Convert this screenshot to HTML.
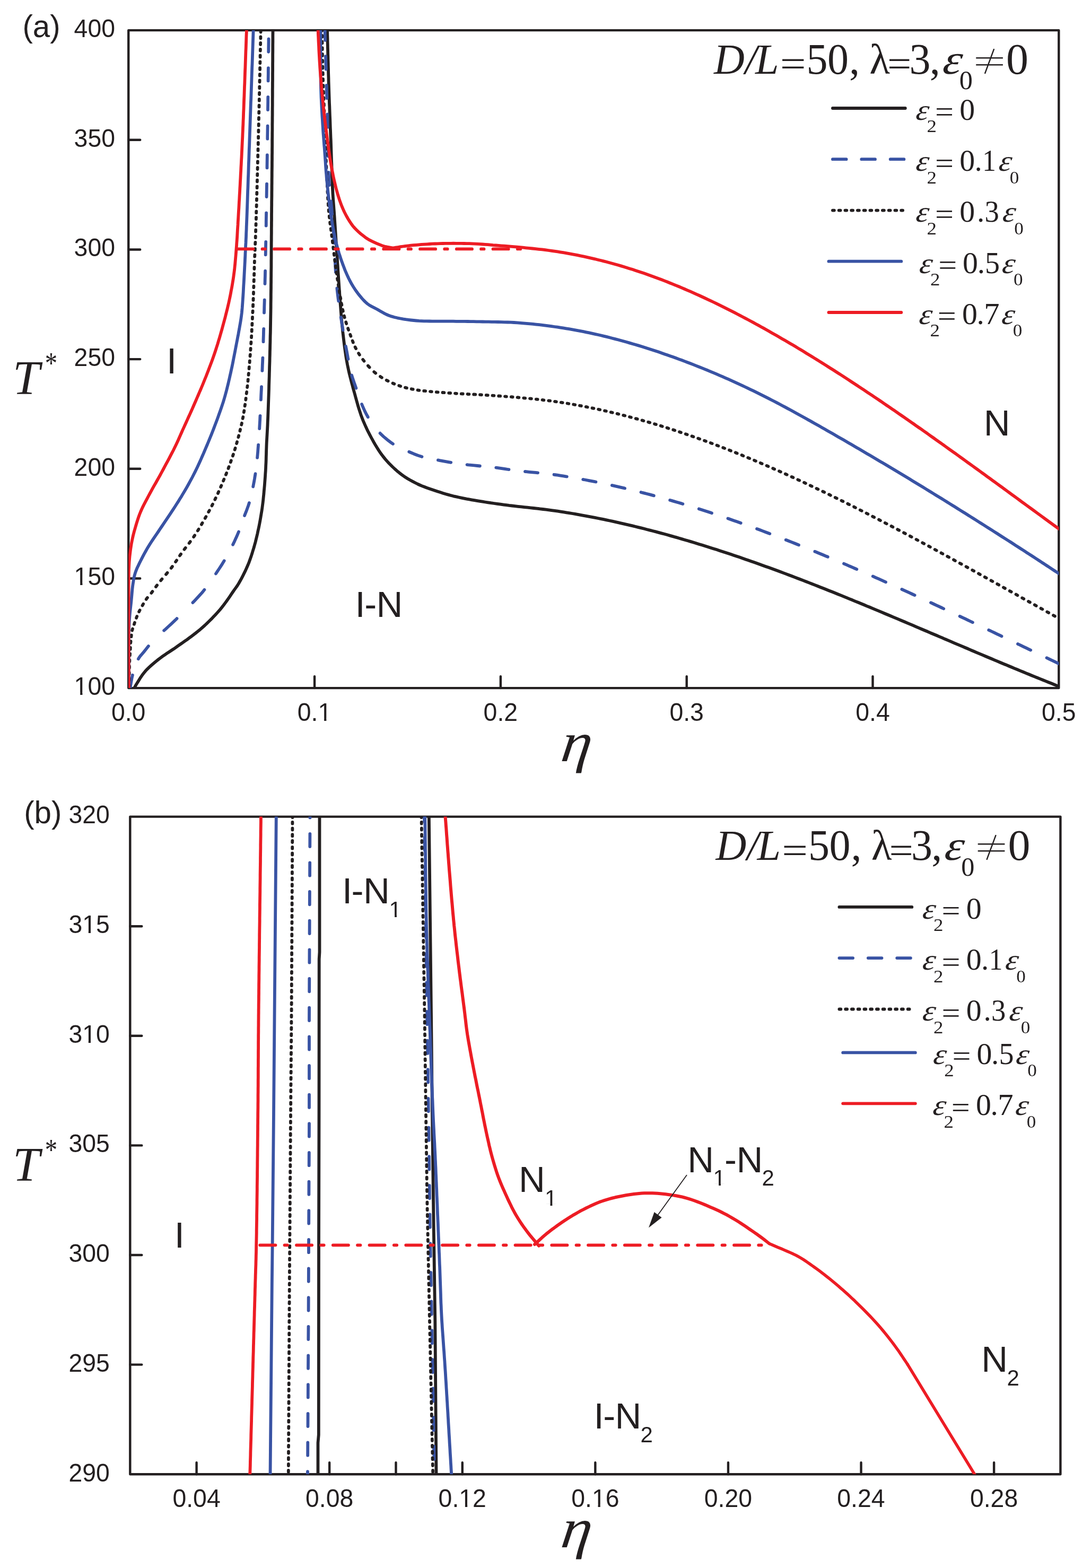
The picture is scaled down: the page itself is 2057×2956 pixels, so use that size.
<!DOCTYPE html>
<html lang="en">
<head>
<meta charset="utf-8">
<title>Phase diagram: T* versus η, D/L=50, λ=3</title>
<style>
html,body{margin:0;padding:0;background:#fff}
body{width:2057px;height:2956px;overflow:hidden}
svg{display:block}
text{fill:#231f20;white-space:pre}
</style>
</head>
<body>
<svg xmlns="http://www.w3.org/2000/svg" width="2057" height="2956" viewBox="0 0 2057 2956">
<rect width="2057" height="2956" fill="#fff"/>
<defs><clipPath id="ca"><rect x="242.25" y="57.1" width="1754.05" height="1240.0"/></clipPath>
<clipPath id="cb"><rect x="245.3" y="1539.6" width="1754.1" height="1239.6"/></clipPath></defs>
<!-- panel (a) -->
<g fill="none" stroke="#231f20" stroke-width="4.4" stroke-linecap="round" stroke-linejoin="round">
<rect x="242.25" y="57.1" width="1754.05" height="1240.0"/>
<path d="M593.06 1297.10v-22M943.87 1297.10v-22M1294.68 1297.10v-22M1645.49 1297.10v-22M242.25 263.77h22M242.25 470.43h22M242.25 677.10h22M242.25 883.77h22M242.25 1090.43h22"/>
</g>
<g fill="none" clip-path="url(#ca)">
<path d="M250.8 1301.5L252.3 1298.6L253.9 1295.7L255.4 1293L257 1290.3L258.7 1287.5L260.5 1284.6L262.7 1281L265 1277.3L267.9 1273.1L271 1269L274 1265.3L277.5 1261.6L281.3 1257.9L285.6 1254L290 1250.2L294.2 1246.7L298.4 1243.4L302.6 1240.2L306.7 1237.2L310.9 1234.3L315.1 1231.4L319.3 1228.7L323.4 1226L327.6 1223.3L331.8 1220.4L335.9 1217.4L340.1 1214.5L344.3 1211.6L348.4 1208.7L352.6 1205.8L356.8 1202.7L361 1199.6L365.2 1196.4L369.4 1193.1L373.6 1189.8L377.7 1186.4L381.9 1182.7L386.1 1179L390.2 1175.1L394.4 1171L398.6 1166.9L402.7 1162.6L405.9 1159.3L409 1155.9L412.1 1152.4L415.2 1148.8L418.4 1144.9L421.6 1140.8L424.7 1136.6L427.7 1132.5L430.6 1128.4L433.4 1124.3L436.2 1120.1L439 1116L441.7 1112.1L444.4 1108.4L447.2 1104.5L450 1100L452.4 1095.8L455 1091.1L457.6 1086.1L460.2 1080.9L462.8 1075.6L465.2 1070.2L467.5 1065L469.6 1059.8L471.5 1054.5L473.4 1049.1L475.2 1043.7L476.8 1038.3L478.5 1032.9L480 1027.5L481.5 1022.2L482.8 1016.8L484.1 1011.5L485.4 1006.1L486.5 1000.7L487.7 995.4L488.8 990L489.8 984.7L490.8 979.3L491.7 974L492.6 968.6L493.5 963.2L494.3 957.9L495 952.5L495.7 947.2L496.3 941.8L496.8 936.4L497.4 931.1L497.8 925.7L498.3 920.4L498.8 915L499.2 909.6L499.6 904.3L500 898.9L500.3 893.6L500.7 888.2L501 882.9L501.2 877.5L501.5 872.2L501.7 866.9L501.8 861.7L502 856.4L502.1 851.1L502.3 845.6L502.5 840L502.7 834.8L503 829.6L503.3 824.2L503.6 818.8L503.9 813.3L504.2 807.7L504.5 801.9L504.7 796L505 790L505.2 784.8L505.4 779.4L505.6 773.9L505.8 768.4L506 762.7L506.2 757L506.4 751.2L506.6 745.3L506.8 739.4L507 733.4L507.1 727.3L507.3 721.2L507.5 715L507.7 709.5L507.8 703.9L508 698.2L508.1 692.5L508.3 686.6L508.5 680.8L508.6 674.8L508.8 668.9L508.9 662.9L509.1 656.9L509.2 650.9L509.4 644.9L509.5 638.8L509.6 632.8L509.8 626.9L509.9 620.9L510 615L510.1 609.1L510.2 603.1L510.3 597.2L510.4 591.2L510.5 585.2L510.6 579.1L510.6 573.1L510.7 567.1L510.8 561.1L510.8 555.2L510.9 549.2L511 543.4L511 537.5L511.1 531.8L511.1 526.1L511.2 520.5L511.2 515L511.3 509L511.4 503.2L511.4 497.6L511.4 492.2L511.5 486.8L511.5 481.5L511.5 476.1L511.6 470.7L511.6 465.1L511.6 459.3L511.7 453.2L511.7 446.8L511.8 440L511.8 435.3L511.8 430.4L511.9 425.4L511.9 420.3L512 415L512 409.6L512 404.1L512.1 398.5L512.1 392.9L512.2 387.1L512.2 381.2L512.3 375.3L512.4 369.3L512.4 363.2L512.5 357.1L512.5 350.9L512.6 344.7L512.6 338.4L512.7 332.1L512.7 325.8L512.8 319.5L512.9 313.2L512.9 306.8L513 300.5L513 294.2L513.1 287.9L513.1 281.6L513.2 275.4L513.2 269.2L513.2 263L513.3 257.3L513.3 251.5L513.4 245.8L513.4 240L513.4 234.2L513.5 228.3L513.5 222.5L513.6 216.6L513.6 210.7L513.6 204.8L513.7 198.9L513.7 192.9L513.7 187L513.8 181L513.8 175L513.8 169L513.9 163L513.9 157L514 151L514 145L514 139L514.1 133L514.1 127L514.1 120.9L514.2 114.9L514.2 108.9L514.2 102.9L514.3 96.9L514.3 90.9L514.3 84.9L514.4 78.9L514.4 72.9L514.4 66.9L514.5 60.9L514.5 55" stroke="#231f20" stroke-width="5.8" stroke-linecap="butt" stroke-linejoin="round"/>
<path d="M617 55L617.2 60.8L617.3 66.6L617.5 72.4L617.6 78.2L617.8 84.1L617.9 89.9L618.1 95.8L618.2 101.6L618.4 107.4L618.5 113.2L618.7 119.1L618.8 124.9L619 130.7L619.1 136.4L619.3 142.2L619.5 147.9L619.6 153.6L619.8 159.3L620 165L620.2 171L620.4 177L620.6 182.9L620.8 188.9L621 194.8L621.3 200.6L621.5 206.5L621.7 212.4L621.9 218.2L622.2 224.1L622.4 229.9L622.6 235.7L622.8 241.6L623.1 247.4L623.3 253.3L623.5 259.1L623.8 265L624 271L624.2 277.1L624.4 283.3L624.6 289.6L624.8 296L625 302.4L625.3 308.7L625.5 315.1L625.7 321.3L625.9 327.5L626.1 333.5L626.4 339.4L626.6 345L626.8 350.4L627 355.6L627.3 360.5L627.5 365L627.9 371.7L628.3 377.5L628.7 382.8L629.1 388L629.5 393.6L630 400L630.3 404.8L630.7 410L631 415.4L631.4 421L631.8 426.8L632.2 432.7L632.6 438.8L633 444.9L633.4 451L633.8 457.1L634.2 463.2L634.6 469.2L635 475L635.4 480.8L635.8 486.5L636.1 492.3L636.5 498.1L636.9 503.8L637.2 509.6L637.6 515.4L638 521.2L638.4 526.9L638.8 532.7L639.2 538.5L639.6 544.2L640 550L640.4 555.8L640.9 561.6L641.3 567.5L641.7 573.3L642.2 579.2L642.6 585L643.1 590.9L643.5 596.7L644 602.4L644.5 608.2L645.1 613.9L645.7 619.5L646.2 625L646.9 630.9L647.6 636.8L648.3 642.6L649 648.4L649.7 654.1L650.5 659.7L651.3 665.4L652.1 670.9L653 676.5L654 682L655 687.5L656.2 693.2L657.4 698.9L658.7 704.5L660.1 710.1L661.5 715.6L662.9 721.1L664.4 726.6L665.8 731.9L667.3 737.3L668.8 742.5L670.4 748.4L672 754.2L673.6 760L675.2 765.6L676.9 771.2L678.7 776.7L680.5 782.2L682.5 787.5L684.7 793.1L687.1 798.7L689.5 804.1L692 809.4L694.6 814.7L697.3 819.9L700 825L702.7 829.9L705.4 834.8L708.2 839.6L711.1 844.3L714 848.9L717 853.3L720 857.5L723.2 861.6L726.4 865.6L729.7 869.4L733 873L736.5 876.5L740 880L744.3 884L748.7 887.9L753.2 891.6L757.8 895.1L762.5 898.5L767.5 901.7L772.7 904.8L778 907.6L783 910.2L787.5 912.5L791.8 914.5L795.6 916.1L800 917.8L804.4 919.5L809.4 921.2L814.6 923L819.8 924.8L825 926.5L830 928.1L835 929.7L840 931.2L845 932.6L850 934L855 935.3L860 936.4L865 937.5L870 938.6L875 939.6L879.9 940.6L884.6 941.4L889.4 942.3L894.4 943.2L900 944.1L904.7 944.9L909.7 945.7L914.8 946.5L920.2 947.3L925.8 948.2L931.6 949L937.6 949.9L943.7 950.7L950 951.6L954.9 952.2L960.1 952.9L965.5 953.5L971.1 954.1L976.8 954.8L982.6 955.4L988.5 956.1L994.5 956.7L1000.5 957.3L1006.4 958L1012.3 958.7L1018.2 959.3L1023.9 960L1029.5 960.7L1034.8 961.4L1040 962.1L1045.9 962.9L1051.7 963.7L1057.3 964.6L1062.7 965.4L1068.1 966.3L1073.4 967.1L1078.7 968L1084 968.9L1089.3 969.9L1094.6 970.8L1100 971.8L1105.5 972.8L1110.9 973.8L1116.4 974.9L1121.8 975.9L1127.3 977L1132.8 978.1L1138.2 979.2L1143.7 980.4L1149.1 981.5L1154.6 982.7L1160 983.9L1165.5 985.1L1170.9 986.3L1176.4 987.6L1181.8 988.8L1187.3 990.1L1192.8 991.4L1198.2 992.7L1203.7 994.1L1209.1 995.4L1214.6 996.8L1220 998.2L1225.5 999.6L1230.9 1001L1236.4 1002.4L1241.8 1003.9L1247.3 1005.4L1252.8 1006.8L1258.2 1008.3L1263.7 1009.9L1269.1 1011.4L1274.6 1012.9L1280 1014.5L1285.5 1016.1L1290.9 1017.7L1296.4 1019.3L1301.8 1020.9L1307.3 1022.5L1312.8 1024.2L1318.2 1025.9L1323.7 1027.5L1329.1 1029.2L1334.6 1030.9L1340 1032.7L1345.5 1034.4L1350.9 1036.1L1356.4 1037.9L1361.8 1039.7L1367.3 1041.5L1372.8 1043.3L1378.2 1045.1L1383.7 1046.9L1389.1 1048.8L1394.6 1050.6L1400 1052.5L1405.5 1054.4L1410.9 1056.3L1416.4 1058.2L1421.8 1060.1L1427.3 1062L1432.8 1064L1438.2 1065.9L1443.7 1067.9L1449.1 1069.8L1454.6 1071.8L1460 1073.8L1465.5 1075.8L1470.9 1077.8L1476.4 1079.9L1481.8 1081.9L1487.3 1084L1492.8 1086L1498.2 1088.1L1503.7 1090.2L1509.1 1092.3L1514.6 1094.4L1520 1096.5L1525.5 1098.6L1530.9 1100.7L1536.4 1102.9L1541.8 1105L1547.3 1107.2L1552.7 1109.3L1558.2 1111.5L1563.7 1113.7L1569.1 1115.8L1574.6 1118L1580 1120.2L1585.5 1122.4L1590.9 1124.6L1596.4 1126.9L1601.8 1129.1L1607.3 1131.3L1612.7 1133.6L1618.2 1135.8L1623.6 1138L1629.1 1140.3L1634.5 1142.6L1640 1144.8L1645.5 1147.1L1650.9 1149.4L1656.4 1151.6L1661.8 1153.9L1667.3 1156.2L1672.7 1158.5L1678.2 1160.8L1683.6 1163.1L1689.1 1165.4L1694.5 1167.7L1700 1170L1705.5 1172.3L1710.9 1174.6L1716.4 1176.9L1721.8 1179.2L1727.3 1181.6L1732.7 1183.9L1738.2 1186.2L1743.6 1188.5L1749.1 1190.8L1754.5 1193.2L1760 1195.5L1765.5 1197.8L1770.9 1200.1L1776.4 1202.4L1781.8 1204.8L1787.3 1207.1L1792.7 1209.4L1798.2 1211.8L1803.6 1214.1L1809.1 1216.4L1814.5 1218.7L1820 1221L1825.5 1223.3L1830.9 1225.7L1836.4 1228L1841.8 1230.3L1847.3 1232.6L1852.7 1234.9L1858.2 1237.2L1863.6 1239.5L1869.1 1241.8L1874.5 1244.1L1880 1246.4L1885.5 1248.7L1890.9 1251L1896.4 1253.2L1901.8 1255.5L1907.3 1257.8L1912.8 1260.1L1918.2 1262.3L1923.7 1264.6L1929.1 1266.8L1934.6 1269.1L1940 1271.3L1945.3 1273.5L1950.6 1275.6L1955.9 1277.8L1961.2 1279.9L1966.4 1282L1971.7 1284.1L1976.9 1286.2L1982.2 1288.3L1987.5 1290.5L1992.7 1292.6L1998 1294.7" stroke="#231f20" stroke-width="5.8" stroke-linecap="butt" stroke-linejoin="round"/>
<path d="M245.3 1297L245.6 1295.6L246.4 1290.8L247.4 1285L248.5 1279L249.6 1273.8L249.9 1272.7M260.8 1242.3L261.5 1241L264.5 1236.7L267.9 1232.9L271.3 1228.9L274.8 1224.5L278.3 1220L279.9 1218M309.2 1188.7L312.7 1185.6L317.1 1181.5L321.4 1177.6L325.4 1173.9L329.3 1170.2L333.2 1166.5L333.5 1166.1M363.5 1136.1L366.5 1132.9L370.4 1128.8L373.9 1125L377.3 1121.3L380.2 1118.1L383 1114.8L385.4 1111.8M407 1081.5L409.7 1077.4L413 1072.5L416.2 1067.6L419.4 1062.6L422.5 1057.5L422.7 1057.2M439.1 1026.8L439.7 1025.5L441.9 1020.9L444 1016.3L446.1 1011.7L448.1 1007.1L450 1002.5L450 1002.5M461.1 972.1L462 969.6L464.1 964.4L466.1 959L468.1 953.5L469.9 947.9M477.2 917.5L477.9 913.8L479 908.1L480 902.5L480.9 896.7L481.5 893.2M485.1 862.9L485.6 857.5L486.1 851.9L486.5 846.2L487 840L487.1 838.6M489.2 808.2L489.5 802.5L489.8 797.4L490.1 792.2L490.3 786.8L490.5 783.9M491.9 753.6L492 751.9L492.2 746L492.5 740L492.8 734.5L493 729.2M494.4 698.9L494.6 694.2L494.8 688.3L495.1 682.4L495.3 676.6L495.4 674.6M496.5 644.2L496.5 641.9L496.7 636.2L496.9 630.4L497 624.6L497.2 620M498 589.6L498.2 584.2L498.3 578.4L498.5 572.6L498.7 566.7L498.7 565.3M499.5 535L499.6 531.8L499.7 526.2L499.9 520.5L500 515L500.1 510.7M500.7 480.3L500.8 477.5L500.9 471.8L501 465.8L501.1 459.4L501.2 456M501.7 425.7L501.8 423.4L501.8 418.1L501.9 412.5L502 406.9L502.1 401.4M502.6 371L502.6 371L502.7 364.7L502.8 358.4L502.9 352L503 346.7M503.5 316.4L503.5 313.4L503.6 307L503.7 300.5L503.8 294.2L503.8 292.1M504.3 261.7L504.3 257.2L504.4 251.4L504.5 245.5L504.6 239.7L504.6 237.4M505 207.1L505 204.3L505.1 198.3L505.2 192.4L505.2 186.5L505.3 182.8M505.6 152.4L505.6 150.6L505.7 144.7L505.8 138.7L505.8 132.7L505.9 128.1M506.2 97.8L506.3 96.8L506.3 90.8L506.4 84.8L506.5 78.8L506.5 73.4" stroke="#3953a4" stroke-width="5.8" stroke-linecap="round" stroke-linejoin="round"/>
<path d="M612.5 55L612.7 60.7L612.8 66.3L613 72L613.1 75.9M614 106.2L614.2 111.6L614.3 117.2L614.5 122.9L614.7 128.6L614.7 130.5M615.6 160.9L615.7 163L615.8 168.8L616 174.5L616.2 180.3L616.3 185.2M617.2 215.5L617.3 221.4L617.5 227.5L617.6 233.1L617.8 238.9L617.8 239.8M618.3 270.2L618.4 275.2L618.5 281.4L618.6 287.5L618.7 293.5L618.7 294.5M619.6 324.8L619.7 327.4L620 332.5L620.4 339L620.8 345.2L621.2 349.1M624 379.5L624.5 384.5L625 390L625.5 395.6L625.9 401L626.2 403.8M628.6 434.1L629 440L629.3 445L629.6 450.3L630 455.8L630.1 458.4M631.6 488.8L631.7 492L632.1 498.3L632.4 504.5L632.8 510.7L632.9 513.1M635.4 543.4L635.6 546L636.3 551.9L637 557.8L637.7 563.6L638.3 567.7M642.7 598.1L643.4 602.2L644.2 607.4L645 612.5L646 618.5L646.6 622.4M651.9 652.7L652.7 657.2L653.8 662.5L654.8 668.1L655.8 673.6L656.5 677M663.2 707.4L664.1 710.7L665.9 715.9L667.6 721L669.4 726L671.2 731.2L671.4 731.7M682.1 762L683.5 765.4L685.8 770.6L688.2 775.9L690.8 781L693.8 786.2L693.8 786.3M716.6 816.7L719 819.1L723.2 823.1L727.6 826.8L732 830.4L736.6 833.8L740.9 836.8M771.2 851.8L775.3 853.5L780.5 855.7L785.7 857.7L790.9 859.6L795.5 861M825.9 867.4L829.3 868.1L834.8 869.1L840.3 870.1L845.8 871.1L850.2 871.8M880.5 876.1L883.1 876.4L888.6 876.9L894.1 877.4L900 878L904.9 878.5M935.2 881.6L937.5 881.9L942.5 882.6L947.6 883.4L952.8 884.2L958.1 885L959.5 885.2M989.9 889L991.8 889.2L997.7 889.8L1003.8 890.4L1009.9 890.9L1014.1 891.3M1044.5 894.8L1045.6 895L1051.1 895.7L1056.6 896.6L1062 897.4L1067.5 898.3L1068.8 898.5M1099.2 903.9L1100 904L1105.5 905L1110.9 906.1L1116.4 907.1L1121.8 908.2L1123.5 908.5M1153.8 915L1154.6 915.1L1160 916.3L1165.5 917.6L1170.9 918.8L1176.4 920.1L1178.1 920.5M1208.5 928L1209.1 928.2L1214.6 929.6L1220 931L1225.5 932.4L1230.9 933.9L1232.8 934.4M1263.1 942.9L1263.7 943L1269.1 944.6L1274.6 946.2L1280 947.8L1285.5 949.4L1287.4 950M1317.8 959.4L1318.2 959.6L1323.7 961.3L1329.1 963L1334.6 964.8L1340 966.6L1342 967.3M1372.4 977.5L1372.8 977.6L1378.2 979.5L1383.7 981.4L1389.1 983.3L1394.6 985.2L1396.7 986M1427 997L1427.3 997.1L1432.8 999.1L1438.2 1001.1L1443.7 1003.2L1449.1 1005.2L1451.3 1006.1M1481.7 1017.8L1481.8 1017.8L1487.3 1020L1492.8 1022.1L1498.2 1024.3L1503.7 1026.5L1506 1027.4M1536.3 1039.7L1536.4 1039.7L1541.8 1042L1547.3 1044.2L1552.8 1046.5L1558.2 1048.8L1560.7 1049.8M1591 1062.6L1596.4 1064.9L1601.8 1067.3L1607.3 1069.6L1612.7 1072L1615.3 1073.1M1645.7 1086.4L1650.9 1088.8L1656.4 1091.2L1661.8 1093.6L1667.3 1096.1L1670 1097.3M1700.3 1111L1705 1113.1L1710 1115.4L1715 1117.7L1720 1120L1724.6 1122.1M1755 1136.2L1755 1136.2L1760 1138.5L1765 1140.8L1770 1143.2L1775 1145.5L1779.2 1147.5M1809.6 1161.8L1810 1162L1815 1164.3L1820 1166.7L1825 1169.1L1830 1171.5L1833.9 1173.3M1864.2 1187.8L1865 1188.1L1870 1190.5L1875 1192.9L1880 1195.3L1885 1197.7L1888.5 1199.4M1918.9 1214L1920.1 1214.5L1925.1 1216.9L1930.1 1219.3L1935 1221.7L1940 1224.1L1943.2 1225.6M1973.5 1240.2L1977 1241.8L1982.2 1244.4L1987.5 1246.9L1992.7 1249.4L1997.8 1251.9" stroke="#3953a4" stroke-width="5.8" stroke-linecap="round" stroke-linejoin="round"/>
<path d="M243.5 1294.2L243.5 1291.3M243.6 1282.5L243.7 1279.5M243.8 1270.8L243.8 1267.8M244 1259L244 1256M244.3 1247.2L244.4 1244.3M244.9 1235.5L245 1234L245.1 1232.5M245.7 1223.8L245.8 1220.8M246.3 1212L246.6 1209M247.5 1200.2L247.5 1200L247.8 1197.3M249.2 1188.5L249.4 1187.5L250 1185.5M252.9 1176.8L253.1 1176.3L253.9 1173.8M257.1 1165L257.5 1163.8L258.2 1162M262.1 1153.2L262.5 1152.5L263.6 1150.3M268.5 1141.5L269.4 1140L270.2 1138.5M275.7 1129.8L276.3 1128.8L277.9 1126.8M285.3 1118L285.7 1117.5L287.5 1115M293.9 1106.2L295.7 1103.8L296.1 1103.3M303.1 1094.5L305.5 1091.5M313 1082.8L315.5 1079.8M322.7 1071L323.5 1070L324.9 1068M331.1 1059.2L332.9 1056.6L333.1 1056.3M339 1047.5L339.2 1047.2L341.1 1044.5M347.5 1035.8L348.8 1034.1L349.8 1032.8M356.6 1024L358.7 1021.3L358.8 1021M365.2 1012.2L367.1 1009.3M372.8 1000.5L373.9 998.8L374.6 997.5M379.9 988.8L381.6 985.8M386.7 977L387.6 975.4L388.4 974M393.2 965.2L394.8 962.3M399.5 953.5L400.1 952.2L401 950.5M405.3 941.8L406.7 938.8M410.9 930L412.2 927M416.1 918.2L417.4 915.3M421.1 906.5L421.9 904.5L422.3 903.5M425.9 894.8L426.3 893.8L427.1 891.8M430.5 883L430.5 882.9L431.6 880M434.8 871.2L435.8 868.3M438.9 859.5L439.9 856.5M442.7 847.8L443.3 845.7L443.6 844.8M446.1 836L446.5 834.8L447 833M449.4 824.2L449.5 823.9L450.2 821.3M452.4 812.5L453.1 809.5M455.2 800.8L455.9 797.8M457.7 789L458.3 786M459.8 777.2L460.3 774.3M461.6 765.5L462.1 762.5M463.3 753.8L463.6 751.1L463.6 750.8M464.7 742L465 740L465.1 739M466.1 730.2L466.3 728.9L466.5 727.3M467.4 718.5L467.5 717.8L467.7 715.5M468.5 706.8L468.5 706.7L468.8 703.8M469.6 695L469.8 692M470.6 683.2L470.8 680.3M471.5 671.5L471.8 668.5M472.4 659.8L472.6 657.4L472.6 656.8M473.2 648L473.4 646L473.4 645M474 636.2L474.1 634.7L474.2 633.3M474.7 624.5L474.7 623.7L474.8 621.5M475.3 612.8L475.3 612.3L475.4 609.8M475.9 601L475.9 600.5L476 598M476.4 589.2L476.5 588.6L476.6 586.3M477 577.5L477 576.7L477.1 574.5M477.5 565.8L477.5 565L477.6 562.8M477.9 554L478 553.3L478 551M478.3 542.2L478.4 541.4L478.4 539.3M478.7 530.5L478.7 529.5L478.8 527.5M479.1 518.7L479.1 517.7L479.2 515.8M479.4 507L479.5 506.3L479.5 504M479.8 495.2L479.9 492.3M480.2 483.5L480.4 480.5M480.7 471.7L480.9 468.8M481.2 460L481.3 458.6L481.4 457M481.7 448.2L481.8 446.8L481.8 445.3M482.1 436.5L482.1 435.8L482.2 433.5M482.5 424.7L482.6 421.9L482.6 421.8M482.9 413L482.9 411.8L483 410M483.2 401.2L483.2 400.9L483.3 398.3M483.6 389.5L483.7 386.5M483.9 377.7L483.9 377.7L484 374.8M484.2 366L484.3 365.4L484.3 363M484.6 354.2L484.6 352.8L484.7 351.3M484.9 342.5L485 340L485 339.5M485.2 330.7L485.3 327.8M485.5 319L485.6 316M485.8 307.2L485.9 304.3M486.2 295.5L486.2 294.6L486.2 292.5M486.5 283.7L486.5 281.8L486.5 280.8M486.8 272L486.8 269.2L486.8 269M487.1 260.2L487.1 257.3M487.4 248.5L487.4 245.8L487.4 245.5M487.7 236.7L487.7 234.2L487.7 233.8M487.9 225L488 222.5L488 222M488.2 213.2L488.3 210.7L488.3 210.3M488.5 201.5L488.5 198.9L488.6 198.5M488.8 189.7L488.8 187L488.8 186.8M489 178L489.1 175M489.3 166.2L489.3 163.3M489.5 154.5L489.6 151.5M489.8 142.7L489.9 139.8M490.1 131L490.1 128M490.3 119.2L490.4 116.3M490.6 107.5L490.6 104.5M490.8 95.7L490.9 92.8M491.1 84L491.2 81M491.4 72.2L491.4 69.3M491.6 60.5L491.7 57.5" stroke="#231f20" stroke-width="5.8" stroke-linecap="round" stroke-linejoin="round"/>
<path d="M607 55L607.1 58M607.2 66.8L607.3 69.7M607.4 78.5L607.5 81.5M607.7 90.2L607.7 93.2M607.9 102L607.9 105M608.1 113.8L608.2 116.7M608.4 125.5L608.4 128.5M608.7 137.2L608.8 140L608.8 140.2M609 149L609.1 151.6L609.1 152M609.4 160.8L609.5 162.9L609.5 163.7M609.8 172.5L609.9 174L610 175.5M610.3 184.2L610.3 185.2L610.4 187.2M610.8 196L610.8 196.7L610.9 199M611.2 207.8L611.3 208.7L611.3 210.7M611.7 219.5L611.7 220.2L611.8 222.5M612.1 231.2L612.2 234.2M612.5 243L612.6 246M613 254.8L613.1 257.7M613.4 266.5L613.4 266.7L613.5 269.4M613.8 278.2L613.9 278.8L614 281.2M614.3 290L614.3 290.9L614.4 292.9M614.8 301.8L614.8 302.7L614.9 304.7M615.3 313.5L615.3 314.1L615.4 316.5M615.8 325.2L615.9 328.2M616.3 337L616.5 340M616.9 348.8L616.9 349L617 351.7M617.4 360.5L617.5 361L617.6 363.5M618 372.2L618.1 372.6L618.2 375.2M618.8 384L619 387M619.6 395.8L619.9 398.7M620.8 407.5L621.1 410.5M622.1 419.2L622.5 422.2M623.7 431L624.1 433.7L624.1 434M625.3 442.8L625.5 444.5L625.7 445.7M626.8 454.5L626.9 455.6L627.2 457.5M628.2 466.2L628.3 466.7L628.6 469.2M629.7 478L630 481M631.1 489.8L631.5 492.7M632.7 501.5L633.1 504.5M634.3 513.2L634.8 516.2M636 525L636.5 528M637.8 536.8L638.2 539.1L638.3 539.7M639.7 548.5L640 550L640.2 551.5M641.8 560.2L642 561.6L642.3 563.2M643.8 572L644 573L644.4 575M646.1 583.8L646.2 584.2L646.8 586.7M648.9 595.5L649.7 598.5M652.2 607.2L653.1 610.2M656.1 619L656.5 620.4L657.1 622M660.3 630.8L661.4 633.7M664.6 642.5L665.8 645.4L665.8 645.5M669.6 654.2L670.1 655.3L671.1 657.2M676.1 666L677.8 668.8L677.9 669M684.2 677.8L686.5 680.7M693.9 689.5L696.6 692.5M705.2 701L705.7 701.4L708.2 703.5M717 709.9L719.6 711.6L719.9 711.8M728.7 716.8L729.9 717.4L731.7 718.3M740.5 722.5L743.4 723.7M752.2 727L754.9 727.9L755.2 728M764 730.6L765 730.9L766.9 731.4M775.7 733.3L778.7 733.9M787.5 735.4L789.8 735.8L790.4 735.8M799.2 736.9L799.4 736.9L802.2 737.2M811 738.1L813.9 738.4M822.7 739.1L825.4 739.3L825.7 739.3M834.5 740L836.8 740.2L837.4 740.2M846.2 740.8L848.6 741L849.2 741M858 741.6L860 741.8L860.9 741.8M869.7 742.3L871 742.4L872.7 742.5M881.5 742.9L881.9 743L884.4 743.1M893.2 743.5L896.2 743.7M905 744.2L907.9 744.4M916.7 744.9L919.7 745.1M928.5 745.7L931.4 745.9M940.2 746.5L943.2 746.7M952 747.3L954.9 747.6M963.7 748.2L966.7 748.5M975.5 749.2L978.4 749.5M987.2 750.3L990.2 750.6M999 751.4L1001.9 751.7M1010.7 752.6L1013.7 752.9M1022.5 753.9L1022.5 753.9L1025.4 754.3M1034.2 755.3L1037.2 755.7M1046 756.9L1048.9 757.3M1057.7 758.7L1060.7 759.1M1069.5 760.5L1072.4 761M1081.2 762.5L1083.7 763L1084.2 763.1M1093 764.7L1094.6 765L1095.9 765.2M1104.7 766.9L1105.5 767L1107.7 767.5M1116.5 769.3L1119.4 769.9M1128.2 771.7L1131.2 772.4M1140 774.4L1142.9 775M1151.7 777.1L1154.6 777.8L1154.7 777.8M1163.5 779.9L1165.5 780.4L1166.4 780.6M1175.2 782.9L1176.4 783.2L1178.2 783.6M1187 785.9L1187.3 786L1189.9 786.7M1198.7 789.1L1201.7 789.9M1210.5 792.4L1213.4 793.2M1222.2 795.7L1225.2 796.6M1234 799.2L1236.4 800L1236.9 800.1M1245.7 802.8L1247.3 803.3L1248.7 803.7M1257.5 806.5L1258.2 806.8L1260.4 807.5M1269.2 810.3L1272.2 811.3M1281 814.2L1283.9 815.2M1292.7 818.2L1295.7 819.2M1304.5 822.3L1307.3 823.3L1307.4 823.3M1316.2 826.4L1318.2 827.2L1319.2 827.5M1328 830.7L1329.1 831.1L1330.9 831.8M1339.7 835L1340 835.1L1342.7 836.1M1351.5 839.5L1354.4 840.6M1363.2 844L1366.2 845.1M1375 848.6L1377.9 849.8M1386.7 853.3L1389.1 854.3L1389.7 854.5M1398.5 858L1400 858.7L1401.4 859.3M1410.2 862.9L1410.9 863.2L1413.2 864.1M1422 867.8L1424.9 869.1M1433.7 872.8L1436.7 874.1M1445.5 877.9L1448.4 879.2M1457.2 883L1460 884.3L1460.2 884.3M1469 888.2L1470.9 889.1L1471.9 889.5M1480.7 893.5L1481.9 894L1483.7 894.8M1492.5 898.9L1492.8 899L1495.4 900.2M1504.2 904.3L1507.2 905.6M1516 909.7L1518.9 911.1M1527.7 915.3L1530 916.4L1530.7 916.7M1539.5 920.9L1540 921.1L1542.4 922.3M1551.2 926.5L1554.2 927.9M1563 932.2L1565 933.2L1565.9 933.7M1574.7 938L1575 938.1L1577.7 939.4M1586.5 943.8L1589.4 945.2M1598.2 949.6L1600 950.6L1601.2 951.1M1610 955.5L1610 955.6L1612.9 957M1621.7 961.5L1624.7 963M1633.5 967.5L1635 968.3L1636.4 969M1645.2 973.6L1648.2 975.1M1657 979.6L1659.9 981.2M1668.7 985.8L1670 986.5L1671.7 987.3M1680.5 991.9L1683.4 993.5M1692.2 998.1L1695 999.6L1695.2 999.7M1704 1004.4L1705 1004.9L1706.9 1005.9M1715.7 1010.6L1718.7 1012.2M1727.5 1017L1730 1018.3L1730.4 1018.5M1739.2 1023.3L1740 1023.7L1742.2 1024.9M1751 1029.6L1753.9 1031.2M1762.7 1036L1765 1037.3L1765.7 1037.6M1774.5 1042.4L1775 1042.7L1777.4 1044M1786.2 1048.9L1789.2 1050.5M1798 1055.3L1800 1056.5L1800.9 1057M1809.7 1061.8L1810 1062L1812.7 1063.4M1821.5 1068.3L1824.4 1069.9M1833.2 1074.8L1835 1075.8L1836.2 1076.4M1845 1081.3L1845 1081.3L1847.9 1083M1856.7 1087.9L1859.7 1089.5M1868.5 1094.4L1870 1095.3L1871.4 1096M1880.2 1100.9L1883.2 1102.6M1892 1107.5L1894.9 1109.1M1903.7 1114.1L1905.1 1114.8L1906.7 1115.7M1915.5 1120.6L1918.4 1122.3M1927.2 1127.2L1930.1 1128.8L1930.2 1128.9M1939 1133.8L1940 1134.4L1941.9 1135.4M1950.7 1140.3L1953.7 1142M1962.5 1146.9L1964.2 1147.9L1965.4 1148.5M1974.2 1153.5L1977.2 1155.1M1986 1160L1988.3 1161.3L1988.9 1161.7M1997.7 1166.6L1998 1166.7" stroke="#231f20" stroke-width="5.8" stroke-linecap="round" stroke-linejoin="round"/>
<path d="M242.7 1301L242.7 1294.9L242.7 1288.6L242.7 1282.2L242.7 1275.6L242.7 1268.9L242.7 1262.2L242.7 1255.5L242.7 1248.9L242.7 1242.4L242.7 1236.1L242.7 1229.9L242.7 1224L242.7 1218.4L242.7 1213.2L242.7 1208.3L242.8 1203.9L242.8 1200L242.9 1193.9L243 1189L243.1 1184.6L243.3 1180L243.5 1175L243.8 1170.1L244.2 1165.1L244.6 1160L245.1 1154.6L245.7 1149.2L246.3 1143.6L247 1137.5L247.5 1132.5L248 1127.1L248.5 1121.5L249 1115.7L249.5 1110.1L250.1 1104.8L250.8 1100L251.7 1094.6L252.5 1089.6L253.6 1084.9L255 1080L256.6 1075.6L258.4 1071.1L260.5 1066.7L262.7 1062.1L265 1057.5L267.2 1053.1L269.5 1048.6L271.9 1044.1L274.5 1039.5L277.1 1034.8L280 1030L282.8 1025.5L285.7 1021L288.8 1016.3L292 1011.6L295.3 1006.8L298.6 1002L301.8 997.2L305 992.5L308.1 987.8L311.3 983.1L314.5 978.3L317.7 973.6L320.9 968.9L324 964.2L327 959.6L330 955L333 950.3L336 945.7L338.8 941.1L341.7 936.5L344.4 931.9L347.2 927.3L350 922.5L352.6 918L355.1 913.5L357.6 908.9L360.2 904.2L362.7 899.5L365.1 894.7L367.6 889.9L370 885L372.3 880.2L374.6 875.3L376.9 870.2L379.2 865.1L381.4 860L383.7 854.9L385.8 849.8L387.9 844.9L390 840L392.3 834.5L394.5 829.2L396.6 824L398.7 818.8L400.8 813.5L402.9 808.1L405 802.5L407 797.3L409 791.9L411 786.4L413 780.8L415 775.2L417 769.5L418.9 763.8L420.8 758.1L422.5 752.5L424.1 747L425.6 741.4L427.1 735.9L428.5 730.3L429.9 724.8L431.2 719.2L432.5 713.6L433.7 708.1L435 702.5L436.2 696.9L437.4 691.3L438.6 685.6L439.7 679.9L440.8 674.2L441.9 668.6L443 663.1L444 657.7L445 652.5L446.1 646.8L447.2 641.2L448.2 635.7L449.3 630.3L450.2 625L451.2 619.9L452 615L452.9 609.9L453.7 605.2L454.4 600.6L455.1 595.7L455.8 590L456.2 585.4L456.7 580.3L457.1 574.8L457.5 569.1L457.9 563.1L458.3 557L458.7 550.9L459 544.8L459.3 538.8L459.7 533L460 527.5L460.3 521.7L460.6 515.9L460.9 510.2L461.2 504.5L461.5 498.9L461.8 493.4L462 488L462.3 482.7L462.5 477.5L462.8 472.1L463 467.2L463.2 462.5L463.5 457.7L463.7 452.6L464 446.8L464.2 440L464.4 436.1L464.6 432L464.7 427.7L464.9 423.1L465.1 418.2L465.3 413.2L465.5 408L465.7 402.6L465.9 397L466.1 391.2L466.3 385.3L466.5 379.3L466.7 373.2L466.9 366.9L467.1 360.6L467.4 354.1L467.6 347.7L467.8 341.1L468 334.5L468.3 327.9L468.5 321.3L468.7 314.6L468.9 308L469.2 301.4L469.4 294.8L469.6 288.3L469.8 281.9L470.1 275.5L470.3 269.2L470.5 263L470.7 257.3L470.9 251.5L471.1 245.8L471.3 240L471.5 234.2L471.7 228.3L471.9 222.5L472.1 216.6L472.3 210.7L472.5 204.8L472.7 198.9L472.9 192.9L473.2 187L473.4 181L473.6 175L473.8 169L474 163L474.2 157L474.4 151L474.6 145L474.8 139L475 133L475.2 127L475.5 120.9L475.7 114.9L475.9 108.9L476.1 102.9L476.3 96.9L476.5 90.9L476.7 84.9L476.9 78.9L477.1 72.9L477.3 66.9L477.5 60.9L477.8 55" stroke="#3953a4" stroke-width="5.8" stroke-linecap="butt" stroke-linejoin="round"/>
<path d="M604.5 55L604.5 60.8L604.5 66.7L604.5 72.6L604.5 78.5L604.5 84.5L604.5 90.5L604.5 96.4L604.5 102.4L604.5 108.3L604.5 114.3L604.5 120.2L604.5 126L604.5 131.8L604.6 137.6L604.6 143.2L604.7 148.8L604.8 154.3L604.9 159.7L605 165L605.2 171.3L605.4 177.5L605.6 183.6L605.9 189.6L606.2 195.6L606.5 201.4L606.8 207.2L607.1 212.9L607.4 218.5L607.8 224L608.1 229.4L608.4 234.8L608.8 240L609.1 246L609.5 251.8L610 257.4L610.4 262.9L610.8 268.3L611.2 273.7L611.7 279.1L612.1 284.5L612.5 290L612.9 295.5L613.3 301.1L613.7 306.6L614 312.1L614.4 317.6L614.8 323.2L615.3 328.7L615.7 334.3L616.2 340L616.8 345.4L617.3 350.8L617.9 356.3L618.4 361.8L619 367.4L619.7 372.9L620.3 378.4L621 384L621.7 389.5L622.5 395L623.3 400.6L624.1 406.2L625 411.9L625.9 417.5L626.8 423.2L627.8 428.8L628.8 434.3L629.8 439.7L630.9 444.9L632 450L633.3 455.8L634.7 461.3L636.1 466.6L637.6 471.9L639.1 477.1L640.8 482.2L642.5 487.5L644.4 493L646.4 498.5L648.5 504.1L650.6 509.6L652.9 514.9L655.2 520.1L657.5 525L660.3 530.4L663.1 535.6L666.1 540.5L669.2 545.3L672.5 550L675.5 554.1L678.8 558.1L682.1 562.1L685.5 565.9L689 569.4L692.5 572.5L696.7 575.5L701 577.9L705.4 580.1L710 582.5L714.3 584.9L718.7 587.5L723.3 590.1L727.9 592.5L732.5 594.5L738 596.4L743.5 598L749.1 599.3L755 600.5L759.8 601.4L764.8 602.2L769.9 602.9L775 603.5L780.1 604L785 604.5L790 604.9L794.7 605.1L799.5 605.3L804.5 605.4L810 605.5L814.8 605.6L820 605.6L825.4 605.7L831 605.7L836.8 605.7L842.7 605.7L848.6 605.7L854.4 605.7L860 605.8L865.5 605.8L871 605.9L876.4 605.9L881.9 606L887.3 606.1L892.8 606.2L898.4 606.3L904.2 606.4L910 606.5L915.6 606.6L921.3 606.7L927.1 606.8L933 606.9L939 607L945 607.1L951 607.3L957.1 607.5L963.1 607.7L969.1 608L975 608.4L980.9 608.8L986.9 609.3L992.8 609.8L998.8 610.4L1004.7 610.9L1010.7 611.6L1016.6 612.2L1022.5 612.9L1028.4 613.7L1034.2 614.4L1040 615.2L1045.6 616L1051.1 616.7L1056.6 617.6L1062 618.4L1067.5 619.3L1072.9 620.2L1078.3 621.1L1083.7 622.1L1089.1 623.1L1094.6 624.1L1100 625.2L1105.5 626.3L1110.9 627.4L1116.4 628.6L1121.9 629.8L1127.3 631L1132.8 632.3L1138.2 633.6L1143.7 634.9L1149.1 636.3L1154.6 637.7L1160 639.1L1165.5 640.5L1170.9 642L1176.4 643.5L1181.9 645L1187.3 646.6L1192.8 648.2L1198.2 649.8L1203.7 651.4L1209.1 653.1L1214.6 654.8L1220 656.5L1225.5 658.2L1230.9 660L1236.4 661.8L1241.9 663.6L1247.3 665.5L1252.8 667.4L1258.2 669.3L1263.7 671.2L1269.1 673.1L1274.6 675.1L1280 677.1L1285.5 679.1L1290.9 681.1L1296.4 683.2L1301.9 685.3L1307.3 687.4L1312.8 689.6L1318.2 691.7L1323.7 693.9L1329.1 696.1L1334.6 698.3L1340 700.6L1345.5 702.9L1350.9 705.2L1356.4 707.6L1361.9 709.9L1367.3 712.3L1372.8 714.7L1378.2 717.1L1383.7 719.6L1389.1 722.1L1394.6 724.6L1400 727.1L1405 729.5L1410 731.9L1415.1 734.3L1420.1 736.7L1425.1 739.1L1430.1 741.6L1435.1 744.1L1440.1 746.6L1445.1 749.1L1450 751.6L1455 754.2L1460 756.8L1465 759.4L1470 762L1475 764.7L1480.1 767.4L1485.1 770.1L1490.1 772.8L1495.1 775.5L1500 778.2L1505 781L1510 783.7L1515 786.5L1520 789.3L1525 792.1L1530 794.9L1535 797.7L1540 800.5L1545 803.3L1550 806.2L1555 809L1560 811.9L1565 814.7L1570 817.6L1575 820.5L1580 823.4L1585 826.2L1590 829.1L1595 832L1600 834.9L1605 837.8L1610 840.7L1615 843.7L1620 846.6L1625 849.5L1630 852.4L1635 855.4L1640 858.3L1645 861.3L1650 864.2L1655 867.2L1660 870.2L1665 873.1L1670 876.1L1675 879.1L1680 882.1L1685 885.1L1690 888.1L1695 891.1L1700 894.1L1705 897.1L1710 900.1L1715 903.1L1720 906.2L1725 909.2L1730 912.2L1735 915.3L1740 918.3L1745 921.4L1750 924.4L1755 927.5L1760 930.6L1765 933.7L1770 936.7L1775 939.8L1780 942.9L1785 946L1790 949.1L1795 952.2L1800 955.3L1805 958.5L1810 961.6L1815 964.7L1820 967.8L1825 971L1830 974.1L1835 977.3L1840 980.4L1845 983.6L1850 986.7L1855 989.9L1860 993.1L1865 996.2L1870 999.4L1875 1002.6L1880 1005.8L1885 1009L1890 1012.2L1895 1015.4L1900.1 1018.6L1905.1 1021.8L1910.1 1025L1915.1 1028.3L1920.1 1031.5L1925.1 1034.7L1930.1 1037.9L1935 1041.2L1940 1044.4L1944.9 1047.5L1949.7 1050.7L1954.6 1053.9L1959.4 1057L1964.2 1060.2L1969.1 1063.3L1973.9 1066.5L1978.7 1069.6L1983.5 1072.8L1988.3 1076L1993.2 1079.1L1998 1082.3" stroke="#3953a4" stroke-width="5.8" stroke-linecap="butt" stroke-linejoin="round"/>
<path d="M242.7 1301L242.7 1295.1L242.7 1289L242.7 1282.8L242.7 1276.4L242.7 1270L242.7 1263.4L242.7 1256.8L242.6 1250.1L242.6 1243.3L242.6 1236.5L242.6 1229.6L242.6 1222.8L242.6 1215.9L242.6 1209L242.6 1202.2L242.5 1195.4L242.5 1188.6L242.5 1181.9L242.5 1175.3L242.5 1168.8L242.5 1162.4L242.5 1156.1L242.5 1149.9L242.5 1143.9L242.5 1138L242.5 1132.3L242.5 1126.8L242.5 1121.5L242.5 1116.4L242.5 1111.5L242.5 1106.9L242.5 1102.5L242.6 1098.4L242.6 1094.6L242.6 1091.1L242.7 1087.9L242.7 1085L242.8 1078.5L242.9 1073.7L243.1 1069.5L243.3 1065L243.6 1060L244 1055.1L244.4 1050.2L245 1045L245.6 1040.2L246.2 1035.2L247 1030.1L247.8 1025L248.8 1020L249.8 1015L250.9 1010.1L252.2 1005.1L253.5 1000.1L255 995L256.4 990.1L257.9 985.1L259.5 980.1L261.2 975L263 970L265 965L267.2 960L269.5 955.1L271.9 950.3L274.5 945.4L277.2 940.3L280 935L282.5 930.4L285.1 925.6L287.8 920.7L290.6 915.7L293.5 910.7L296.4 905.5L299.3 900.3L302.2 895.2L305 890L307.7 885L310.4 879.9L313.2 874.7L316.1 869.4L318.9 864.1L321.6 858.9L324.2 853.9L326.8 849L329.1 844.3L331.2 840L333.8 834.6L336 829.8L338 825.2L340.1 820.4L342.5 815L344.4 810.7L346.5 806.1L348.7 801.3L351 796.2L353.3 791.1L355.7 785.8L358.1 780.6L360.5 775.3L362.8 770.1L365 765L367.2 760L369.4 755L371.5 750L373.7 745L375.8 740L378 735L380.1 730L382.2 725L384.2 720L386.2 715L388.5 709.5L390.6 703.9L392.8 698.4L394.9 692.8L397 687.3L399.1 681.7L401.1 676.2L403.1 670.6L405 665L406.8 659.5L408.6 653.9L410.4 648.4L412 642.8L413.7 637.3L415.3 631.7L416.9 626.1L418.5 620.6L420 615L421.5 609.5L423 603.9L424.5 598.4L425.9 592.8L427.3 587.3L428.7 581.7L430 576.1L431.3 570.6L432.5 565L433.7 559.4L434.8 553.9L435.8 548.3L436.9 542.7L437.9 537.1L438.8 531.5L439.7 526L440.5 520.5L441.2 515L442 509.2L442.6 503.3L443.2 497.4L443.7 491.5L444.2 485.8L444.7 480.1L445.1 474.7L445.5 469.5L446 463.6L446.3 458.4L446.7 453.3L447.1 447.4L447.5 440L447.7 436.4L447.9 432.6L448.2 428.4L448.5 424L448.7 419.4L449 414.5L449.3 409.3L449.6 404L449.9 398.5L450.3 392.8L450.6 386.9L450.9 380.9L451.3 374.7L451.6 368.4L452 362.1L452.3 355.6L452.7 349L453 342.4L453.4 335.8L453.7 329.1L454.1 322.4L454.4 315.7L454.8 309L455.1 302.3L455.5 295.7L455.8 289.1L456.1 282.6L456.4 276.2L456.7 269.9L457 263.8L457.3 258L457.5 252.3L457.8 246.5L458 240.7L458.3 234.9L458.5 229L458.8 223.1L459 217.2L459.2 211.3L459.5 205.4L459.7 199.5L459.9 193.5L460.1 187.5L460.4 181.5L460.6 175.5L460.8 169.5L461 163.5L461.3 157.5L461.5 151.4L461.7 145.4L461.9 139.4L462.1 133.3L462.4 127.3L462.6 121.2L462.8 115.2L463 109.1L463.2 103.1L463.4 97L463.7 91L463.9 85L464.1 79L464.3 73L464.5 67L464.8 61L465 55" stroke="#ed1c24" stroke-width="5.8" stroke-linecap="butt" stroke-linejoin="round"/>
<path d="M599.5 55L599.8 60.5L600 66L600.3 71.5L600.5 77L600.8 82.6L601.1 88.1L601.3 93.6L601.6 99L601.9 104.4L602.2 109.8L602.5 115L602.9 120.8L603.2 126.4L603.6 132L604 137.5L604.4 143L604.9 148.5L605.3 154L605.8 159.5L606.2 165L606.7 170.6L607.3 176.1L607.8 181.7L608.3 187.2L608.9 192.8L609.4 198.3L610 203.9L610.6 209.4L611.2 215L611.9 220.6L612.5 226.1L613.2 231.7L613.9 237.2L614.6 242.8L615.3 248.3L616 253.9L616.7 259.4L617.5 265L618.3 270.6L619 276.2L619.8 281.8L620.6 287.4L621.4 293L622.2 298.6L623.1 304.1L624 309.6L625 315L626.1 320.8L627.3 326.7L628.4 332.5L629.7 338.3L631 343.9L632.3 349.5L633.6 354.9L635 360L636.5 365.4L638.1 370.7L639.7 375.7L641.4 380.6L643.2 385.4L645 390L647.1 394.8L649.2 399.5L651.5 404L653.8 408.3L656.2 412.5L659.1 417.1L662 421.5L665.1 425.8L668.8 430L672.2 433.5L676 437.1L680.1 440.7L684.4 444.1L688.5 447.3L692.5 450L697 452.7L701.4 454.9L705.7 456.9L710 458.8L715 460.9L720 462.9L725 464.5L730.3 465.7L735.8 466.6L741.2 467.5" stroke="#ed1c24" stroke-width="5.8" stroke-linecap="butt" stroke-linejoin="round"/>
<path d="M741.2 467.5L745.9 466.7L750.5 466L755.1 465.2L760 464.5L764.8 463.9L769.7 463.3L774.8 462.7L779.9 462.2L785 461.8L790 461.3L795 460.9L800 460.6L805 460.3L810 460L815 459.7L820 459.5L825 459.3L830 459.1L835 459L840 458.9L845 458.8L850 458.8L855 458.7L860 458.8L865 458.8L870 458.9L875 459L880 459.1L885 459.2L890 459.4L895 459.7L900 459.9L905 460.2L910 460.5L914.9 460.8L919.7 461.2L924.6 461.6L929.6 462.1L935 462.5L940.1 462.9L945.5 463.3L951 463.7L956.7 464.1L962.6 464.6L968.7 465.1L975 465.7L980.3 466.2L985.9 466.7L991.7 467.3L997.6 467.8L1003.7 468.5L1009.8 469.1L1015.9 469.8L1022.1 470.4L1028.1 471.2L1034.1 472L1040 472.8L1045.6 473.6L1051.1 474.4L1056.6 475.3L1062 476.2L1067.5 477.1L1072.9 478.1L1078.3 479.1L1083.7 480.1L1089.2 481.2L1094.6 482.3L1100 483.4L1105.5 484.6L1110.9 485.8L1116.4 487.1L1121.9 488.3L1127.3 489.7L1132.8 491L1138.2 492.4L1143.7 493.8L1149.1 495.2L1154.6 496.7L1160 498.2L1165.5 499.8L1171 501.4L1176.4 503L1181.9 504.7L1187.3 506.4L1192.8 508.1L1198.3 509.9L1203.7 511.7L1209.1 513.5L1214.6 515.3L1220 517.2L1225.5 519.2L1231 521.2L1236.4 523.2L1241.9 525.2L1247.4 527.3L1252.8 529.4L1258.3 531.5L1263.7 533.7L1269.1 535.9L1274.6 538.1L1280 540.3L1285.5 542.6L1291 545L1296.4 547.3L1301.9 549.7L1307.4 552.1L1312.8 554.6L1318.3 557L1323.7 559.5L1329.1 562L1334.6 564.6L1340 567.1L1345 569.5L1350 571.9L1355.1 574.4L1360.1 576.8L1365.1 579.3L1370.1 581.8L1375.1 584.3L1380.1 586.9L1385.1 589.4L1390 592L1395 594.6L1400 597.2L1405 599.9L1410 602.5L1415.1 605.2L1420.1 607.9L1425.1 610.7L1430.1 613.4L1435.1 616.2L1440.1 618.9L1445.1 621.7L1450 624.5L1455 627.4L1460 630.2L1465 633.1L1470 636L1475 638.9L1480.1 641.8L1485.1 644.7L1490.1 647.7L1495.1 650.6L1500.1 653.6L1505 656.6L1510 659.6L1515 662.6L1520 665.7L1525 668.7L1530 671.8L1535 674.9L1540.1 678L1545.1 681.1L1550.1 684.2L1555.1 687.4L1560 690.5L1565 693.7L1570 696.8L1575 700L1580 703.2L1585 706.4L1590 709.7L1595 712.9L1600 716.2L1605 719.5L1610 722.7L1615 726L1620 729.3L1625 732.6L1630 735.9L1635 739.3L1640 742.6L1644.6 745.7L1649.3 748.8L1653.9 751.9L1658.5 755L1663.1 758.2L1667.7 761.3L1672.3 764.5L1677 767.6L1681.6 770.8L1686.2 773.9L1690.8 777.1L1695.4 780.3L1700 783.5L1704.6 786.7L1709.2 789.9L1713.9 793.1L1718.5 796.3L1723.1 799.5L1727.7 802.8L1732.3 806L1737 809.2L1741.6 812.5L1746.2 815.7L1750.8 819L1755.4 822.3L1760 825.5L1764.6 828.8L1769.2 832.1L1773.9 835.4L1778.5 838.7L1783.1 842L1787.7 845.3L1792.3 848.6L1796.9 851.9L1801.6 855.2L1806.2 858.5L1810.8 861.8L1815.4 865.1L1820 868.5L1824.6 871.8L1829.2 875.1L1833.9 878.5L1838.5 881.8L1843.1 885.2L1847.7 888.5L1852.3 891.9L1856.9 895.2L1861.5 898.6L1866.2 901.9L1870.8 905.3L1875.4 908.6L1880 912L1884.6 915.4L1889.2 918.7L1893.9 922.1L1898.5 925.5L1903.1 928.9L1907.8 932.3L1912.4 935.6L1917 939L1921.6 942.4L1926.2 945.8L1930.8 949.1L1935.4 952.5L1940 955.8L1944.9 959.4L1949.7 962.9L1954.6 966.5L1959.4 970L1964.2 973.5L1969.1 977.1L1973.9 980.6L1978.7 984.1L1983.5 987.6L1988.3 991.1L1993.2 994.7L1998 998.2" stroke="#ed1c24" stroke-width="5.8" stroke-linecap="butt" stroke-linejoin="round"/>
<path d="M448.2 469.4H477.4M494.5 469.4H499.9M517 469.4H546.2M563.2 469.4H568.7M585.8 469.4H615M632 469.4H637.5M654.5 469.4H683.7M700.8 469.4H706.2M723.2 469.4H752.5M769.5 469.4H775M792 469.4H821.2M838.2 469.4H843.7M860.8 469.4H890M907 469.4H912.5M929.5 469.4H958.7M975.8 469.4H981.2" stroke="#ed1c24" stroke-width="5.8" stroke-linecap="round" stroke-linejoin="round"/>
</g>
<g>
<text transform="translate(139.6 70.3) scale(1 1.035)" font-family='"Liberation Sans",Arial,Helvetica,sans-serif' font-size="46.4">400</text>
<text transform="translate(139.6 276.9) scale(1 1.035)" font-family='"Liberation Sans",Arial,Helvetica,sans-serif' font-size="46.4">350</text>
<text transform="translate(139.6 483.4) scale(1 1.035)" font-family='"Liberation Sans",Arial,Helvetica,sans-serif' font-size="46.4">300</text>
<text transform="translate(139.6 690.0) scale(1 1.035)" font-family='"Liberation Sans",Arial,Helvetica,sans-serif' font-size="46.4">250</text>
<text transform="translate(139.6 896.6) scale(1 1.035)" font-family='"Liberation Sans",Arial,Helvetica,sans-serif' font-size="46.4">200</text>
<text transform="translate(139.6 1103.1) scale(1 1.035)" clip-path="url(#k1)" font-family='"Liberation Sans",Arial,Helvetica,sans-serif' font-size="46.4">1</text><text transform="translate(165.4 1103.1) scale(1 1.035)" font-family='"Liberation Sans",Arial,Helvetica,sans-serif' font-size="46.4">50</text>
<text transform="translate(139.6 1309.7) scale(1 1.035)" clip-path="url(#k1)" font-family='"Liberation Sans",Arial,Helvetica,sans-serif' font-size="46.4">1</text><text transform="translate(165.4 1309.7) scale(1 1.035)" font-family='"Liberation Sans",Arial,Helvetica,sans-serif' font-size="46.4">00</text>
<text transform="translate(209.9 1358.8) scale(1 1.035)" font-family='"Liberation Sans",Arial,Helvetica,sans-serif' font-size="46.4">0.0</text>
<text transform="translate(560.8 1358.8) scale(1 1.035)" font-family='"Liberation Sans",Arial,Helvetica,sans-serif' font-size="46.4">0.</text><text transform="translate(599.5 1358.8) scale(1 1.035)" clip-path="url(#k1)" font-family='"Liberation Sans",Arial,Helvetica,sans-serif' font-size="46.4">1</text>
<text transform="translate(911.6 1358.8) scale(1 1.035)" font-family='"Liberation Sans",Arial,Helvetica,sans-serif' font-size="46.4">0.2</text>
<text transform="translate(1262.4 1358.8) scale(1 1.035)" font-family='"Liberation Sans",Arial,Helvetica,sans-serif' font-size="46.4">0.3</text>
<text transform="translate(1613.2 1358.8) scale(1 1.035)" font-family='"Liberation Sans",Arial,Helvetica,sans-serif' font-size="46.4">0.4</text>
<text transform="translate(1964.0 1358.8) scale(1 1.035)" font-family='"Liberation Sans",Arial,Helvetica,sans-serif' font-size="46.4">0.5</text>
</g>
<!-- panel (b) -->
<g fill="none" stroke="#231f20" stroke-width="4.4" stroke-linecap="round" stroke-linejoin="round">
<rect x="245.3" y="1539.6" width="1754.1" height="1239.6"/>
<path d="M370.59 2779.20v-22M621.18 2779.20v-22M746.47 2779.20v-22M871.76 2779.20v-22M1122.35 2779.20v-22M1372.94 2779.20v-22M1623.52 2779.20v-22M1874.11 2779.20v-22M245.30 1746.20h22M245.30 1952.80h22M245.30 2159.40h22M245.30 2366.00h22M245.30 2572.60h22"/>
</g>
<g fill="none" clip-path="url(#cb)">
<path d="M602.5 1538L602.5 1795L601.7 1808L601.5 2100L601 2350L600.8 2705L599.5 2720L599.5 2781" stroke="#231f20" stroke-width="5.8" stroke-linecap="butt" stroke-linejoin="round"/>
<path d="M808.8 1538L813 1910L815 2100L817.5 2300L820.3 2490L822.5 2781" stroke="#231f20" stroke-width="5.8" stroke-linecap="butt" stroke-linejoin="round"/>
<path d="M584.5 1538L584.5 1541.4M584.4 1571.8L584.3 1596M584.2 1626.4L584.1 1650.7M583.9 1681L583.8 1705.3M583.7 1735.7L583.6 1760M583.5 1790.3L583.4 1814.7M583.3 1845L583.2 1869.3M583.1 1899.7L583 1919.5L583 1924M583 1954.3L583 1978.6M583 2009L583 2033.2M583 2063.6L583 2087.9M583 2118.2L582.9 2142.6M582.8 2172.9L582.7 2197.2M582.5 2227.6L582.4 2251.8M582.3 2282.2L582.2 2306.5M582.1 2336.8L582 2350L582 2361.2M581.9 2391.5L581.8 2415.8M581.7 2446.2L581.6 2470.5M581.5 2500.8L581.3 2525.1M581.2 2555.5L581 2579.8M580.9 2610.1L580.8 2634.4M580.6 2664.8L580.5 2689.1M580.3 2719.4L580.2 2743.7M580 2774.1L580 2781" stroke="#3953a4" stroke-width="5.8" stroke-linecap="round" stroke-linejoin="round"/>
<path d="M800 1538L800.1 1548.7M800.6 1579L800.9 1603.3M801.3 1633.7L801.6 1658M802 1688.3L802.3 1712.7M802.8 1743L803.1 1767.3M803.5 1797.7L803.8 1821.9M804.2 1852.3L804.6 1876.6M805 1906.9L805 1910L805.3 1931.2M805.8 1961.6L806.2 1985.9M806.7 2016.2L807.1 2040.5M807.5 2070.9L807.9 2095.2M808.3 2125.6L808.6 2149.8M809 2180.2L809.3 2204.5M809.7 2234.8L810 2259.2M810.4 2289.5L810.5 2300L810.8 2313.8M811.3 2344.2L811.8 2368.4M812.3 2398.8L812.8 2423.1M813.3 2453.4L813.8 2477.8M814.3 2508.1L814.7 2532.4M815.2 2562.8L815.7 2587.1M816.2 2617.4L816.6 2641.7M817.1 2672.1L817.5 2696.3M818.1 2726.7L818.5 2751" stroke="#3953a4" stroke-width="5.8" stroke-linecap="round" stroke-linejoin="round"/>
<path d="M551.5 1538L551.5 1541M551.4 1549.8L551.4 1552.7M551.4 1561.5L551.4 1564.5M551.3 1573.2L551.3 1576.2M551.3 1585L551.2 1588M551.2 1596.8L551.2 1599.7M551.1 1608.5L551.1 1611.5M551.1 1620.2L551.1 1623.2M551 1632L551 1635M550.9 1643.8L550.9 1646.7M550.9 1655.5L550.9 1658.5M550.8 1667.2L550.8 1670.2M550.8 1679L550.7 1682M550.7 1690.8L550.7 1693.7M550.6 1702.5L550.6 1705.5M550.6 1714.2L550.6 1717.2M550.5 1726L550.5 1729M550.5 1737.8L550.4 1740.7M550.4 1749.5L550.4 1752.5M550.3 1761.2L550.3 1764.2M550.3 1773L550.3 1776M550.2 1784.8L550.2 1787.7M550.1 1796.5L550.1 1799.5M550.1 1808.2L550.1 1811.2M550 1820L550 1823M550 1831.8L549.9 1834.7M549.9 1843.5L549.9 1846.5M549.8 1855.2L549.8 1858.2M549.8 1867L549.8 1870M549.7 1878.8L549.7 1881.7M549.7 1890.5L549.6 1893.5M549.6 1902.2L549.6 1905.2M549.5 1914L549.5 1917M549.4 1925.8L549.4 1928.7M549.4 1937.5L549.3 1940.5M549.3 1949.2L549.2 1952.2M549.2 1961L549.1 1964M549.1 1972.8L549 1975.7M549 1984.5L548.9 1987.5M548.9 1996.2L548.8 1999.2M548.8 2008L548.7 2011M548.7 2019.8L548.6 2022.7M548.6 2031.5L548.5 2034.5M548.5 2043.3L548.4 2046.2M548.4 2055L548.3 2058M548.3 2066.8L548.3 2069.7M548.2 2078.5L548.2 2081.5M548.1 2090.2L548.1 2093.2M548 2102L548 2105M547.9 2113.8L547.9 2116.7M547.8 2125.5L547.8 2128.5M547.7 2137.2L547.7 2140.2M547.7 2149L547.6 2152M547.6 2160.8L547.6 2163.7M547.5 2172.5L547.5 2175.5M547.4 2184.2L547.4 2187.2M547.3 2196L547.3 2199M547.2 2207.8L547.2 2210.7M547.2 2219.5L547.1 2222.5M547.1 2231.2L547.1 2234.2M547 2243L547 2246M546.9 2254.8L546.9 2257.7M546.8 2266.5L546.8 2269.5M546.8 2278.2L546.7 2281.2M546.7 2290L546.6 2293M546.6 2301.8L546.6 2304.7M546.5 2313.5L546.5 2316.5M546.4 2325.2L546.4 2328.2M546.3 2337L546.3 2340M546.3 2348.8L546.2 2350L546.2 2351.7M546.2 2360.5L546.2 2363.5M546.1 2372.3L546.1 2375.2M546 2384L546 2387M545.9 2395.8L545.9 2398.7M545.8 2407.5L545.8 2410.5M545.8 2419.3L545.8 2420L545.7 2422.2M545.7 2431L545.7 2434M545.6 2442.8L545.6 2445.7M545.6 2454.5L545.5 2457.5M545.5 2466.3L545.5 2469.2M545.4 2478L545.4 2481M545.4 2489.8L545.3 2492.7M545.3 2501.5L545.3 2504.5M545.2 2513.3L545.2 2516.2M545.2 2525L545.2 2528M545.1 2536.8L545.1 2539.7M545 2548.5L545 2551.5M545 2560.3L545 2563.2M544.9 2572L544.9 2575M544.8 2583.8L544.8 2586.7M544.8 2595.5L544.8 2598.5M544.7 2607.3L544.7 2610.2M544.6 2619L544.6 2622M544.6 2630.8L544.6 2633.7M544.5 2642.5L544.5 2645.5M544.5 2654.3L544.4 2657.2M544.4 2666L544.4 2669M544.3 2677.8L544.3 2680.7M544.3 2689.5L544.2 2692.5M544.2 2701.3L544.2 2704.2M544.1 2713L544.1 2716M544.1 2724.8L544 2727.7M544 2736.5L544 2739.5M543.9 2748.2L543.9 2751.2M543.9 2760L543.9 2763M543.8 2771.8L543.8 2774.7" stroke="#231f20" stroke-width="5.8" stroke-linecap="round" stroke-linejoin="round"/>
<path d="M794.5 1538L794.5 1541M794.7 1549.8L794.7 1552.7M794.9 1561.5L794.9 1564.5M795.1 1573.2L795.1 1576.2M795.3 1585L795.3 1588M795.4 1596.8L795.5 1599.7M795.6 1608.5L795.7 1611.5M795.8 1620.2L795.9 1623.2M796 1632L796.1 1635M796.2 1643.8L796.3 1646.7M796.4 1655.5L796.4 1658.5M796.6 1667.2L796.6 1670.2M796.8 1679L796.8 1682M797 1690.8L797 1693.7M797.2 1702.5L797.2 1705.5M797.3 1714.2L797.4 1717.2M797.5 1726L797.6 1729M797.7 1737.8L797.8 1740.7M797.9 1749.5L798 1752.5M798.1 1761.2L798.1 1764.2M798.3 1773L798.3 1776M798.5 1784.8L798.5 1787.7M798.7 1796.5L798.7 1799.5M798.9 1808.3L798.9 1811.2M799 1820L799.1 1823M799.2 1831.8L799.3 1834.7M799.4 1843.5L799.5 1846.5M799.6 1855.3L799.7 1858.2M799.8 1867L799.9 1870M800 1878.8L800 1881.7M800.2 1890.5L800.2 1893.5M800.4 1902.3L800.4 1905.2M800.6 1914L800.6 1917M800.7 1925.8L800.7 1928.7M800.9 1937.5L800.9 1940.5M801 1949.3L801.1 1952.2M801.2 1961L801.2 1964M801.3 1972.8L801.4 1975.7M801.5 1984.5L801.5 1987.5M801.6 1996.3L801.7 1999.2M801.8 2008L801.8 2011M801.9 2019.8L802 2022.7M802.1 2031.5L802.1 2034.5M802.3 2043.3L802.3 2046.2M802.4 2055L802.4 2058M802.6 2066.8L802.6 2069.7M802.7 2078.5L802.8 2081.5M802.9 2090.3L802.9 2093.2M803 2102L803.1 2105M803.2 2113.8L803.2 2116.7M803.4 2125.5L803.4 2128.5M803.5 2137.3L803.6 2140.2M803.7 2149L803.7 2152M803.9 2160.8L803.9 2163.7M804 2172.5L804.1 2175.5M804.2 2184.3L804.2 2187.2M804.4 2196L804.4 2199M804.5 2207.8L804.6 2210.7M804.7 2219.5L804.7 2222.5M804.9 2231.3L804.9 2234.2M805 2243L805.1 2246M805.2 2254.8L805.3 2257.7M805.4 2266.5L805.4 2269.5M805.6 2278.3L805.6 2281.2M805.8 2290L805.9 2293M806.1 2301.8L806.1 2304.7M806.3 2313.5L806.4 2316.5M806.6 2325.3L806.6 2328.2M806.8 2337L806.9 2340M807 2348.8L807.1 2351.7M807.3 2360.5L807.4 2363.5M807.5 2372.3L807.6 2375.2M807.8 2384L807.8 2387M808 2395.8L808.1 2398.7M808.3 2407.5L808.3 2410.5M808.5 2419.3L808.6 2422.2M808.8 2431L808.8 2434M809 2442.8L809.1 2445.7M809.3 2454.5L809.3 2457.5M809.5 2466.3L809.6 2469.2M809.7 2478L809.8 2481M810 2489.8L810 2490L810.1 2492.7M810.2 2501.5L810.3 2504.5M810.5 2513.3L810.6 2516.2M810.8 2525L810.8 2528M811 2536.8L811.1 2539.7M811.3 2548.5L811.3 2551.5M811.5 2560.3L811.6 2563.2M811.8 2572L811.8 2575M812 2583.8L812.1 2586.7M812.3 2595.5L812.3 2598.5M812.5 2607.3L812.6 2610.2M812.8 2619L812.8 2622M813 2630.8L813.1 2633.7M813.3 2642.5L813.3 2645.5M813.5 2654.3L813.6 2657.2M813.8 2666L813.8 2669M814 2677.8L814.1 2680.7M814.3 2689.5L814.3 2692.5M814.5 2701.3L814.6 2704.2M814.8 2713L814.9 2716M815 2724.8L815.1 2727.7M815.3 2736.5L815.4 2739.5M815.5 2748.3L815.6 2751.2M815.8 2760L815.9 2763M816.1 2771.8L816.1 2774.7" stroke="#231f20" stroke-width="5.8" stroke-linecap="round" stroke-linejoin="round"/>
<path d="M520.8 1538L517.5 1919.5L516 2100L513.6 2350L512.8 2420L509.5 2781" stroke="#3953a4" stroke-width="5.8" stroke-linecap="butt" stroke-linejoin="round"/>
<path d="M801.2 1538L801.3 1543.9L801.4 1549.9L801.5 1555.8L801.5 1561.8L801.6 1567.8L801.7 1573.8L801.7 1579.8L801.8 1585.8L801.9 1591.8L801.9 1597.8L802 1603.9L802.1 1609.9L802.1 1615.9L802.2 1621.9L802.2 1627.9L802.3 1634L802.4 1640L802.4 1646L802.5 1652L802.6 1657.9L802.6 1663.9L802.7 1669.8L802.8 1675.8L802.9 1681.7L803 1687.6L803 1693.4L803.1 1699.3L803.2 1705.1L803.3 1710.9L803.4 1716.7L803.5 1722.4L803.6 1728.1L803.8 1733.8L803.9 1739.4L804 1745L804.1 1751.2L804.3 1757.3L804.5 1763.4L804.6 1769.5L804.8 1775.4L805 1781.4L805.1 1787.3L805.3 1793.2L805.5 1799L805.7 1804.8L805.9 1810.6L806.1 1816.4L806.3 1822.2L806.5 1827.9L806.7 1833.7L806.9 1839.5L807.1 1845.2L807.3 1851L807.6 1856.8L807.8 1862.6L808 1868.4L808.2 1874.2L808.4 1880.1L808.6 1886L808.9 1891.9L809.1 1897.9L809.3 1903.9L809.5 1910L809.7 1915.8L809.9 1921.7L810.1 1927.6L810.3 1933.7L810.5 1939.8L810.8 1946L811 1952.2L811.2 1958.5L811.4 1964.8L811.6 1971.1L811.9 1977.5L812.1 1983.8L812.3 1990.2L812.5 1996.6L812.8 2002.9L813 2009.2L813.2 2015.5L813.4 2021.8L813.7 2028L813.9 2034.1L814.1 2040.2L814.3 2046.2L814.6 2052.1L814.8 2057.9L815 2063.6L815.2 2069.2L815.5 2074.7L815.7 2080L815.9 2085.3L816.1 2090.3L816.3 2095.2L816.5 2100L816.8 2106.7L817.1 2113.1L817.4 2119.1L817.7 2124.9L818 2130.4L818.2 2135.8L818.5 2141.1L818.8 2146.4L819.1 2151.6L819.4 2157L819.6 2162.4L819.9 2168L820.2 2173.9L820.5 2180L820.7 2185.2L821 2190.5L821.2 2196L821.5 2201.5L821.7 2207.1L821.9 2212.8L822.2 2218.6L822.4 2224.4L822.7 2230.3L822.9 2236.2L823.2 2242.1L823.4 2248.1L823.6 2254L823.9 2259.9L824.1 2265.8L824.4 2271.7L824.6 2277.5L824.8 2283.2L825 2288.9L825.3 2294.5L825.5 2300L825.8 2306.1L826 2312.2L826.2 2318.3L826.5 2324.4L826.7 2330.4L827 2336.4L827.2 2342.4L827.5 2348.3L827.7 2354.2L827.9 2360.1L828.2 2365.9L828.4 2371.7L828.6 2377.4L828.8 2383.1L829.1 2388.8L829.3 2394.4L829.5 2400L829.7 2406L829.9 2411.8L830.1 2417.6L830.3 2423.3L830.5 2428.9L830.7 2434.5L830.9 2440L831 2445.6L831.2 2451.2L831.4 2456.8L831.7 2462.4L831.9 2468.2L832.2 2474L832.5 2480L832.8 2485.5L833.1 2491L833.5 2496.5L833.8 2501.9L834.2 2507.4L834.6 2512.9L835 2518.5L835.4 2524.1L835.8 2529.8L836.2 2535.5L836.6 2541.4L837.1 2547.4L837.5 2553.5L837.9 2559.7L838.4 2566.1L838.8 2572.7L839.2 2579.5L839.6 2584.5L839.9 2589.5L840.2 2594.7L840.5 2600L840.9 2605.4L841.2 2610.8L841.5 2616.4L841.9 2622.1L842.2 2627.8L842.6 2633.6L842.9 2639.5L843.3 2645.4L843.6 2651.4L844 2657.5L844.4 2663.5L844.7 2669.7L845.1 2675.8L845.4 2682L845.8 2688.3L846.2 2694.5L846.5 2700.8L846.9 2707L847.3 2713.3L847.6 2719.6L848 2725.8L848.4 2732.1L848.7 2738.3L849.1 2744.5L849.5 2750.7L849.8 2756.9L850.2 2763L850.5 2769L850.9 2775L851.2 2781" stroke="#3953a4" stroke-width="5.8" stroke-linecap="butt" stroke-linejoin="round"/>
<path d="M492 1538L491.9 1544L491.9 1550L491.8 1556L491.7 1562.1L491.6 1568.2L491.6 1574.3L491.5 1580.5L491.4 1586.7L491.3 1592.8L491.3 1599.1L491.2 1605.3L491.1 1611.5L491 1617.8L491 1624.1L490.9 1630.4L490.8 1636.7L490.7 1643L490.6 1649.3L490.6 1655.6L490.5 1662L490.4 1668.3L490.3 1674.6L490.3 1680.9L490.2 1687.3L490.1 1693.6L490 1699.9L489.9 1706.2L489.9 1712.5L489.8 1718.8L489.7 1725.1L489.6 1731.3L489.6 1737.6L489.5 1743.8L489.4 1750L489.3 1756.2L489.2 1762.4L489.2 1768.5L489.1 1774.6L489 1780.7L489 1786.8L488.9 1792.8L488.8 1798.8L488.7 1804.8L488.7 1810.7L488.6 1816.6L488.5 1822.5L488.5 1828.3L488.4 1834L488.3 1839.8L488.3 1845.5L488.2 1851.1L488.1 1856.7L488.1 1862.2L488 1867.7L488 1873.2L487.9 1878.6L487.9 1883.9L487.8 1889.2L487.7 1894.4L487.7 1899.5L487.6 1904.6L487.6 1909.6L487.5 1914.6L487.5 1919.5L487.4 1926.3L487.4 1933L487.3 1939.5L487.3 1945.9L487.2 1952.1L487.2 1958.2L487.1 1964.2L487.1 1970.1L487.1 1975.9L487 1981.7L487 1987.3L487 1992.9L486.9 1998.5L486.9 2004L486.9 2009.4L486.8 2014.9L486.8 2020.3L486.8 2025.7L486.8 2031.1L486.7 2036.6L486.7 2042L486.7 2047.5L486.6 2053L486.6 2058.6L486.5 2064.3L486.5 2070L486.5 2075.8L486.4 2081.7L486.4 2087.7L486.3 2093.8L486.2 2100L486.2 2105.5L486.1 2111.1L486.1 2116.8L486 2122.7L486 2128.6L485.9 2134.6L485.9 2140.7L485.8 2146.9L485.7 2153.1L485.7 2159.4L485.6 2165.8L485.5 2172.2L485.5 2178.6L485.4 2185.1L485.3 2191.6L485.3 2198.1L485.2 2204.6L485.1 2211.1L485.1 2217.6L485 2224.1L484.9 2230.5L484.8 2237L484.8 2243.3L484.7 2249.7L484.6 2256L484.5 2262.2L484.5 2268.4L484.4 2274.5L484.3 2280.5L484.2 2286.4L484.1 2292.2L484.1 2297.9L484 2303.5L483.9 2309L483.8 2314.3L483.7 2319.5L483.7 2324.6L483.6 2329.5L483.5 2334.3L483.4 2338.9L483.3 2343.3L483.2 2347.5L483.1 2354.5L483 2361L482.8 2367.1L482.7 2372.9L482.5 2378.4L482.4 2383.7L482.2 2388.8L482 2393.8L481.9 2398.9L481.7 2403.9L481.6 2409.1L481.4 2414.4L481.2 2420L481.1 2425.5L480.9 2430.7L480.8 2435.9L480.7 2441L480.5 2446.1L480.4 2451.3L480.2 2456.5L480.1 2461.8L479.9 2467.4L479.7 2473.1L479.6 2479.2L479.4 2485.6L479.2 2492.3L479 2499.5L478.9 2503.7L478.8 2508.1L478.6 2512.6L478.5 2517.3L478.4 2522.1L478.2 2527.1L478.1 2532.1L477.9 2537.3L477.8 2542.6L477.7 2548L477.5 2553.6L477.3 2559.2L477.2 2564.9L477 2570.7L476.9 2576.6L476.7 2582.6L476.5 2588.6L476.4 2594.8L476.2 2600.9L476 2607.2L475.9 2613.5L475.7 2619.9L475.5 2626.3L475.3 2632.7L475.1 2639.2L475 2645.7L474.8 2652.3L474.6 2658.8L474.4 2665.4L474.2 2672L474.1 2678.6L473.9 2685.2L473.7 2691.8L473.5 2698.4L473.3 2704.9L473.2 2711.5L473 2718L472.8 2724.5L472.6 2731L472.4 2737.4L472.3 2743.8L472.1 2750.2L471.9 2756.5L471.8 2762.7L471.6 2768.9L471.4 2775L471.2 2781" stroke="#ed1c24" stroke-width="5.8" stroke-linecap="butt" stroke-linejoin="round"/>
<path d="M839.5 1538L839.9 1543.9L840.4 1549.9L840.8 1555.9L841.3 1561.8L841.7 1567.8L842.1 1573.8L842.6 1579.8L843 1585.8L843.4 1591.7L843.9 1597.7L844.3 1603.7L844.8 1609.6L845.2 1615.5L845.7 1621.5L846.1 1627.4L846.6 1633.3L847 1639.1L847.5 1645L848 1651L848.5 1657L849 1662.9L849.4 1668.9L849.9 1674.9L850.4 1680.8L850.9 1686.8L851.4 1692.7L851.9 1698.6L852.5 1704.5L853 1710.3L853.5 1716.2L854 1722L854.6 1727.8L855.1 1733.6L855.7 1739.3L856.2 1745L856.9 1751L857.5 1757.1L858.1 1763.1L858.8 1769.1L859.5 1775L860.1 1781L860.8 1786.9L861.5 1792.8L862.2 1798.6L862.9 1804.4L863.5 1810.1L864.2 1815.8L864.9 1821.5L865.6 1827L866.2 1832.5L867 1838.5L867.7 1844.4L868.5 1850.2L869.2 1856L870 1861.8L870.7 1867.4L871.5 1873L872.2 1878.6L872.9 1884L873.6 1889.4L874.3 1894.8L875 1900L875.7 1905.9L876.4 1911.5L877 1917L877.7 1922.4L878.3 1927.8L878.9 1933.2L879.6 1938.7L880.4 1944.3L881.2 1950L882.1 1955.4L883 1961L884 1966.6L885 1972.2L886 1978L887.1 1983.7L888.1 1989.5L889.2 1995.3L890.3 2001.1L891.4 2006.8L892.5 2012.5L893.6 2018.2L894.7 2023.9L895.8 2029.6L897 2035.2L898.1 2040.9L899.2 2046.6L900.4 2052.3L901.6 2058L902.7 2063.6L903.9 2069.3L905 2075L906.1 2080.7L907.3 2086.5L908.4 2092.4L909.6 2098.2L910.7 2104.1L911.8 2109.9L913 2115.7L914.1 2121.3L915.3 2126.9L916.4 2132.3L917.5 2137.5L918.7 2143.2L920 2148.8L921.2 2154.1L922.3 2159.4L923.6 2164.6L924.8 2169.7L926.1 2174.8L927.5 2180L929.1 2185.8L930.8 2191.6L932.5 2197.4L934.3 2203.2L936.1 2208.9L938 2214.5L940 2220L942 2225.2L944 2230.2L946.1 2235.2L948.3 2240.2L950.5 2245.1L952.7 2250.1L955 2255L957.3 2260.1L959.7 2265.1L962.2 2270.2L964.6 2275.3L967.2 2280.3L969.8 2285.2L972.5 2290L975.2 2294.5L978 2299L980.8 2303.4L983.7 2307.7L986.6 2311.9L989.6 2316L992.5 2320L996.4 2325.1L1000.5 2330.3L1004.6 2335.1L1008.3 2339.5L1011.2 2343L1013.8 2346L1016 2348.5" stroke="#ed1c24" stroke-width="6.0" stroke-linecap="round" stroke-linejoin="round"/>
<path d="M1008 2346L1009.5 2344.6L1011.2 2343L1014 2340.5L1017.5 2337.3L1021.5 2333.6L1025.8 2329.8L1030 2326.2L1033.9 2323.1L1038 2319.9L1042.2 2316.7L1046.5 2313.6L1050.7 2310.5L1055 2307.5L1060 2304.1L1064.9 2300.7L1069.9 2297.5L1075 2294.3L1080 2291.2L1085 2288.3L1089.9 2285.5L1094.9 2282.7L1100 2280.1L1105 2277.5L1110 2275.1L1114.9 2272.7L1119.9 2270.4L1125 2268.2L1130 2266.2L1134.9 2264.5L1139.8 2262.8L1144.8 2261.3L1149.8 2259.9L1155 2258.5L1159.9 2257.3L1164.9 2256.2L1170 2255.2L1175.1 2254.2L1180.1 2253.3L1185 2252.5L1190.1 2251.7L1195.1 2251L1200.1 2250.4L1205 2249.9L1210 2249.5L1215 2249.3L1220 2249.2L1225 2249.2L1230 2249.3L1235 2249.5L1240 2249.8L1245 2250.2L1250 2250.8L1255 2251.3L1260 2252L1265 2252.7L1270 2253.4L1275 2254.2L1280 2255.2L1285 2256.2L1290 2257.5L1295 2258.9L1300 2260.4L1305 2262L1310 2263.8L1315 2265.6L1320 2267.5L1325 2269.6L1330 2271.6L1335 2273.8L1340 2275.9L1345 2278.1L1350 2280.3L1355 2282.6L1360 2285L1365 2287.6L1370.1 2290.2L1375.1 2293L1380 2295.8L1385 2298.8L1390 2301.8L1395.1 2305L1400 2308.3L1405 2311.6L1410 2315L1414.3 2317.9L1418.6 2320.9L1422.9 2323.9L1427.1 2326.8L1431.2 2329.7L1435 2332.5L1439.2 2335.6L1443 2338.6L1446.7 2341.5L1450.5 2344.5" stroke="#ed1c24" stroke-width="6.0" stroke-linecap="round" stroke-linejoin="round"/>
<path d="M1450.5 2344.5L1456 2346.9L1461.7 2349.4L1467.5 2351.8L1473.3 2354.2L1479.1 2356.7L1484.7 2359.1L1490.2 2361.5L1495.5 2363.9L1500.4 2366.3L1505 2368.8L1510 2371.6L1514.5 2374.4L1518.7 2377.2L1522.8 2380L1526.9 2382.9L1531.3 2386L1535.7 2389.1L1540.1 2392.3L1544.6 2395.6L1549.1 2399L1553.7 2402.5L1558.1 2406L1562.6 2409.5L1567.1 2413.1L1571.6 2416.8L1576.1 2420.6L1580.6 2424.4L1585 2428.3L1589.5 2432.2L1593.9 2436.1L1597.9 2439.7L1601.8 2443.3L1605.7 2447L1609.7 2450.6L1613.6 2454.4L1617.5 2458.2L1621.3 2462L1625.2 2465.8L1629.2 2469.8L1633.1 2473.8L1637 2477.8L1640.9 2481.8L1644.8 2485.9L1648.7 2490.1L1652.6 2494.4L1656.4 2498.7L1660 2502.8L1663.6 2507.1L1667.2 2511.4L1670.7 2515.8L1674.3 2520.3L1677.8 2524.7L1681.2 2529.1L1684.5 2533.5L1687.7 2537.8L1691.3 2542.8L1694.8 2547.7L1698.1 2552.6L1701.4 2557.5L1704.6 2562.4L1707.9 2567.3L1711.2 2572.2" stroke="#ed1c24" stroke-width="5.6" stroke-linecap="round" stroke-linejoin="round"/>
<path d="M1711.2 2572.2L1838.5 2781" stroke="#ed1c24" stroke-width="5.6" stroke-linecap="round" stroke-linejoin="round"/>
<path d="M490.2 2347.3H519.5M536.5 2347.3H542M559 2347.3H588.2M605.2 2347.3H610.7M627.8 2347.3H657M674 2347.3H679.5M696.5 2347.3H725.7M742.8 2347.3H748.2M765.2 2347.3H794.5M811.5 2347.3H817M834 2347.3H863.2M880.2 2347.3H885.7M902.8 2347.3H932M949 2347.3H954.5M971.5 2347.3H1000.7M1017.8 2347.3H1023.2M1040.2 2347.3H1069.5M1086.5 2347.3H1092M1109 2347.3H1138.2M1155.2 2347.3H1160.7M1177.8 2347.3H1206.9M1224 2347.3H1229.4M1246.5 2347.3H1275.7M1292.7 2347.3H1298.2M1315.2 2347.3H1344.4M1361.5 2347.3H1366.9M1384 2347.3H1413.2M1430.2 2347.3H1435.7" stroke="#ed1c24" stroke-width="5.8" stroke-linecap="round" stroke-linejoin="round"/>
</g>
<g>
<text transform="translate(129.4 1552.3) scale(1 1.035)" font-family='"Liberation Sans",Arial,Helvetica,sans-serif' font-size="46.4">320</text>
<text transform="translate(129.4 1759.0) scale(1 1.035)" font-family='"Liberation Sans",Arial,Helvetica,sans-serif' font-size="46.4">3</text><text transform="translate(155.2 1759.0) scale(1 1.035)" clip-path="url(#k1)" font-family='"Liberation Sans",Arial,Helvetica,sans-serif' font-size="46.4">1</text><text transform="translate(181.0 1759.0) scale(1 1.035)" font-family='"Liberation Sans",Arial,Helvetica,sans-serif' font-size="46.4">5</text>
<text transform="translate(129.4 1965.7) scale(1 1.035)" font-family='"Liberation Sans",Arial,Helvetica,sans-serif' font-size="46.4">3</text><text transform="translate(155.2 1965.7) scale(1 1.035)" clip-path="url(#k1)" font-family='"Liberation Sans",Arial,Helvetica,sans-serif' font-size="46.4">1</text><text transform="translate(181.0 1965.7) scale(1 1.035)" font-family='"Liberation Sans",Arial,Helvetica,sans-serif' font-size="46.4">0</text>
<text transform="translate(129.4 2172.4) scale(1 1.035)" font-family='"Liberation Sans",Arial,Helvetica,sans-serif' font-size="46.4">305</text>
<text transform="translate(129.4 2379.1) scale(1 1.035)" font-family='"Liberation Sans",Arial,Helvetica,sans-serif' font-size="46.4">300</text>
<text transform="translate(129.4 2585.8) scale(1 1.035)" font-family='"Liberation Sans",Arial,Helvetica,sans-serif' font-size="46.4">295</text>
<text transform="translate(129.4 2792.6) scale(1 1.035)" font-family='"Liberation Sans",Arial,Helvetica,sans-serif' font-size="46.4">290</text>
<text transform="translate(325.4 2840.9) scale(1 1.035)" font-family='"Liberation Sans",Arial,Helvetica,sans-serif' font-size="46.4">0.04</text>
<text transform="translate(576.0 2840.9) scale(1 1.035)" font-family='"Liberation Sans",Arial,Helvetica,sans-serif' font-size="46.4">0.08</text>
<text transform="translate(826.6 2840.9) scale(1 1.035)" font-family='"Liberation Sans",Arial,Helvetica,sans-serif' font-size="46.4">0.</text><text transform="translate(865.3 2840.9) scale(1 1.035)" clip-path="url(#k1)" font-family='"Liberation Sans",Arial,Helvetica,sans-serif' font-size="46.4">1</text><text transform="translate(891.1 2840.9) scale(1 1.035)" font-family='"Liberation Sans",Arial,Helvetica,sans-serif' font-size="46.4">2</text>
<text transform="translate(1077.2 2840.9) scale(1 1.035)" font-family='"Liberation Sans",Arial,Helvetica,sans-serif' font-size="46.4">0.</text><text transform="translate(1115.9 2840.9) scale(1 1.035)" clip-path="url(#k1)" font-family='"Liberation Sans",Arial,Helvetica,sans-serif' font-size="46.4">1</text><text transform="translate(1141.7 2840.9) scale(1 1.035)" font-family='"Liberation Sans",Arial,Helvetica,sans-serif' font-size="46.4">6</text>
<text transform="translate(1327.7 2840.9) scale(1 1.035)" font-family='"Liberation Sans",Arial,Helvetica,sans-serif' font-size="46.4">0.20</text>
<text transform="translate(1578.3 2840.9) scale(1 1.035)" font-family='"Liberation Sans",Arial,Helvetica,sans-serif' font-size="46.4">0.24</text>
<text transform="translate(1828.9 2840.9) scale(1 1.035)" font-family='"Liberation Sans",Arial,Helvetica,sans-serif' font-size="46.4">0.28</text>
</g>
<text x="42.4" y="70.4" font-family='"Liberation Sans",Arial,Helvetica,sans-serif' font-size="58.3">(a)</text>
<text x="45.2" y="1552.3" font-family='"Liberation Sans",Arial,Helvetica,sans-serif' font-size="58.3">(b)</text>
<text transform="translate(24.1 743.0) scale(1.019 1.000)" font-family='"Liberation Serif","Times New Roman",Times,serif' font-size="90" font-style="italic">T</text>
<text transform="translate(84.7 704.4) scale(0.863 1.050)" font-family='"Liberation Serif","Times New Roman",Times,serif' font-size="54">*</text>
<text transform="translate(24.1 2226.0) scale(1.019 1.000)" font-family='"Liberation Serif","Times New Roman",Times,serif' font-size="90" font-style="italic">T</text>
<text transform="translate(84.7 2187.4) scale(0.863 1.050)" font-family='"Liberation Serif","Times New Roman",Times,serif' font-size="54">*</text>
<text transform="translate(1055.2 1435.0) scale(1.088 1.000) skewX(-7)" font-family='"Liberation Serif","Times New Roman",Times,serif' font-size="106" font-style="italic">η</text>
<text transform="translate(1055.2 2917.0) scale(1.088 1.000) skewX(-7)" font-family='"Liberation Serif","Times New Roman",Times,serif' font-size="106" font-style="italic">η</text>
<text x="314.1" y="704.2" font-family='"Liberation Sans",Arial,Helvetica,sans-serif' font-size="69">I</text>
<text x="1854.7" y="821.0" font-family='"Liberation Sans",Arial,Helvetica,sans-serif' font-size="69">N</text>
<text x="669.6" y="1163.2" font-family='"Liberation Sans",Arial,Helvetica,sans-serif' font-size="69">I</text><text x="687.2" y="1163.2" font-family='"Liberation Sans",Arial,Helvetica,sans-serif' font-size="69">-</text><text x="709.4" y="1163.2" font-family='"Liberation Sans",Arial,Helvetica,sans-serif' font-size="69">N</text>
<text x="328.7" y="2351.7" font-family='"Liberation Sans",Arial,Helvetica,sans-serif' font-size="69">I</text>
<text x="644.9" y="1702.9" font-family='"Liberation Sans",Arial,Helvetica,sans-serif' font-size="69">I</text><text x="662.6" y="1702.9" font-family='"Liberation Sans",Arial,Helvetica,sans-serif' font-size="69">-</text><text x="685.0" y="1702.9" font-family='"Liberation Sans",Arial,Helvetica,sans-serif' font-size="69">N</text><text transform="translate(733.6 1728.9)" clip-path="url(#k2)" font-family='"Liberation Sans",Arial,Helvetica,sans-serif' font-size="42">1</text>
<text x="977.9" y="2247.0" font-family='"Liberation Sans",Arial,Helvetica,sans-serif' font-size="69">N</text><text transform="translate(1027.0 2273.0)" clip-path="url(#k2)" font-family='"Liberation Sans",Arial,Helvetica,sans-serif' font-size="42">1</text>
<text x="1296.2" y="2209.5" font-family='"Liberation Sans",Arial,Helvetica,sans-serif' font-size="69">N</text><text transform="translate(1344.6 2235.2)" clip-path="url(#k2)" font-family='"Liberation Sans",Arial,Helvetica,sans-serif' font-size="42">1</text><text x="1366.0" y="2209.5" font-family='"Liberation Sans",Arial,Helvetica,sans-serif' font-size="69">-</text><text x="1388.4" y="2209.5" font-family='"Liberation Sans",Arial,Helvetica,sans-serif' font-size="69">N</text><text x="1436.6" y="2235.2" font-family='"Liberation Sans",Arial,Helvetica,sans-serif' font-size="42">2</text>
<text x="1850.3" y="2586.3" font-family='"Liberation Sans",Arial,Helvetica,sans-serif' font-size="69">N</text><text x="1898.4" y="2612.3" font-family='"Liberation Sans",Arial,Helvetica,sans-serif' font-size="42">2</text>
<text x="1119.6" y="2692.6" font-family='"Liberation Sans",Arial,Helvetica,sans-serif' font-size="69">I</text><text x="1137.2" y="2692.6" font-family='"Liberation Sans",Arial,Helvetica,sans-serif' font-size="69">-</text><text x="1159.4" y="2692.6" font-family='"Liberation Sans",Arial,Helvetica,sans-serif' font-size="69">N</text><text x="1207.4" y="2718.9" font-family='"Liberation Sans",Arial,Helvetica,sans-serif' font-size="42">2</text>
<text x="1345.9" y="138.8" font-family='"Liberation Serif","Times New Roman",Times,serif' font-size="80" font-style="italic">D</text>
<text x="1404.7" y="138.8" font-family='"Liberation Serif","Times New Roman",Times,serif' font-size="80" font-style="italic">/</text>
<text x="1423.9" y="138.8" font-family='"Liberation Serif","Times New Roman",Times,serif' font-size="80" font-style="italic">L</text>
<text transform="translate(1470.7 144.1) scale(1.237 1.000)" font-family='"Liberation Serif","Times New Roman",Times,serif' font-size="70">=</text>
<text transform="translate(1520.4 138.8) scale(1.000 1.035)" font-family='"Liberation Serif","Times New Roman",Times,serif' font-size="80">5</text>
<text transform="translate(1560.0 138.8) scale(1.000 1.034)" font-family='"Liberation Serif","Times New Roman",Times,serif' font-size="80">0</text>
<text x="1601.0" y="138.8" font-family='"Liberation Serif","Times New Roman",Times,serif' font-size="80">,</text>
<text x="1639.3" y="138.8" font-family='"Liberation Serif","Times New Roman",Times,serif' font-size="80">λ</text>
<text transform="translate(1673.0 144.1) scale(1.148 1.000)" font-family='"Liberation Serif","Times New Roman",Times,serif' font-size="70">=</text>
<text transform="translate(1714.5 138.8) scale(1.000 1.038)" font-family='"Liberation Serif","Times New Roman",Times,serif' font-size="80">3</text>
<text x="1752.8" y="138.8" font-family='"Liberation Serif","Times New Roman",Times,serif' font-size="80">,</text>
<text transform="translate(1775.6 138.8) scale(1.115 0.992) skewX(-8)" font-family='"Liberation Serif","Times New Roman",Times,serif' font-size="80" font-style="italic">ε</text>
<text transform="translate(1808.8 168.4) scale(1.005 1.000)" font-family='"Liberation Serif","Times New Roman",Times,serif' font-size="50">0</text>
<text transform="translate(1831.4 139.7) scale(1.033 1.000)" font-family='"Noto Sans CJK SC","DejaVu Sans","Liberation Sans",sans-serif' font-size="66" font-weight="100">≠</text>
<text transform="translate(1897.0 138.8) scale(1.050 1.034)" font-family='"Liberation Serif","Times New Roman",Times,serif' font-size="80">0</text>
<text x="1349.4" y="1621.3" font-family='"Liberation Serif","Times New Roman",Times,serif' font-size="80" font-style="italic">D</text>
<text x="1408.2" y="1621.3" font-family='"Liberation Serif","Times New Roman",Times,serif' font-size="80" font-style="italic">/</text>
<text x="1427.4" y="1621.3" font-family='"Liberation Serif","Times New Roman",Times,serif' font-size="80" font-style="italic">L</text>
<text transform="translate(1474.2 1626.6) scale(1.237 1.000)" font-family='"Liberation Serif","Times New Roman",Times,serif' font-size="70">=</text>
<text transform="translate(1523.9 1621.3) scale(1.000 1.035)" font-family='"Liberation Serif","Times New Roman",Times,serif' font-size="80">5</text>
<text transform="translate(1563.5 1621.3) scale(1.000 1.034)" font-family='"Liberation Serif","Times New Roman",Times,serif' font-size="80">0</text>
<text x="1604.5" y="1621.3" font-family='"Liberation Serif","Times New Roman",Times,serif' font-size="80">,</text>
<text x="1642.8" y="1621.3" font-family='"Liberation Serif","Times New Roman",Times,serif' font-size="80">λ</text>
<text transform="translate(1676.5 1626.6) scale(1.148 1.000)" font-family='"Liberation Serif","Times New Roman",Times,serif' font-size="70">=</text>
<text transform="translate(1718.0 1621.3) scale(1.000 1.038)" font-family='"Liberation Serif","Times New Roman",Times,serif' font-size="80">3</text>
<text x="1756.3" y="1621.3" font-family='"Liberation Serif","Times New Roman",Times,serif' font-size="80">,</text>
<text transform="translate(1779.1 1621.3) scale(1.115 0.992) skewX(-8)" font-family='"Liberation Serif","Times New Roman",Times,serif' font-size="80" font-style="italic">ε</text>
<text transform="translate(1812.3 1650.9) scale(1.005 1.000)" font-family='"Liberation Serif","Times New Roman",Times,serif' font-size="50">0</text>
<text transform="translate(1834.9 1622.2) scale(1.033 1.000)" font-family='"Noto Sans CJK SC","DejaVu Sans","Liberation Sans",sans-serif' font-size="66" font-weight="100">≠</text>
<text transform="translate(1900.5 1621.3) scale(1.050 1.034)" font-family='"Liberation Serif","Times New Roman",Times,serif' font-size="80">0</text>
<path d="M1569.9 204.0H1706.8" fill="none" stroke="#231f20" stroke-width="5.8" stroke-linecap="round"/>
<text transform="translate(1725.3 225.7) scale(1.064 0.964) skewX(-8)" font-family='"Liberation Serif","Times New Roman",Times,serif' font-size="57" font-style="italic">ε</text>
<text transform="translate(1747.5 249.3) scale(1.086 1.000)" font-family='"Liberation Serif","Times New Roman",Times,serif' font-size="34">2</text>
<text transform="translate(1763.1 229.1) scale(1.150 1.000)" font-family='"Liberation Serif","Times New Roman",Times,serif' font-size="54">=</text>
<text transform="translate(1809.2 225.7) scale(1.014 1.000)" font-family='"Liberation Serif","Times New Roman",Times,serif' font-size="57">0</text>
<path d="M1569.9 300.2H1705.5" fill="none" stroke="#3953a4" stroke-width="5.8" stroke-linecap="round" stroke-dasharray="25.7 28.7"/>
<text transform="translate(1725.3 322.1) scale(1.064 0.964) skewX(-8)" font-family='"Liberation Serif","Times New Roman",Times,serif' font-size="57" font-style="italic">ε</text>
<text transform="translate(1747.5 345.7) scale(1.086 1.000)" font-family='"Liberation Serif","Times New Roman",Times,serif' font-size="34">2</text>
<text transform="translate(1763.1 325.5) scale(1.150 1.000)" font-family='"Liberation Serif","Times New Roman",Times,serif' font-size="54">=</text>
<text transform="translate(1809.2 322.1) scale(1.014 1.000)" font-family='"Liberation Serif","Times New Roman",Times,serif' font-size="57">0</text>
<text x="1837.4" y="322.1" font-family='"Liberation Serif","Times New Roman",Times,serif' font-size="57">.</text>
<text transform="translate(1852.2 322.1) scale(0.900 1.000)" font-family='"Liberation Serif","Times New Roman",Times,serif' font-size="57">1</text>
<text transform="translate(1881.5 322.1) scale(1.060 0.964) skewX(-8)" font-family='"Liberation Serif","Times New Roman",Times,serif' font-size="57" font-style="italic">ε</text>
<text transform="translate(1903.8 345.6) scale(1.034 1.000)" font-family='"Liberation Serif","Times New Roman",Times,serif' font-size="34">0</text>
<path d="M1569.9 396.6H1704.5" fill="none" stroke="#231f20" stroke-width="5.8" stroke-linecap="round" stroke-dasharray="2.95 8.8"/>
<text transform="translate(1725.3 418.2) scale(1.064 0.964) skewX(-8)" font-family='"Liberation Serif","Times New Roman",Times,serif' font-size="57" font-style="italic">ε</text>
<text transform="translate(1747.5 441.8) scale(1.086 1.000)" font-family='"Liberation Serif","Times New Roman",Times,serif' font-size="34">2</text>
<text transform="translate(1763.1 421.6) scale(1.150 1.000)" font-family='"Liberation Serif","Times New Roman",Times,serif' font-size="54">=</text>
<text transform="translate(1809.2 418.2) scale(1.014 1.000)" font-family='"Liberation Serif","Times New Roman",Times,serif' font-size="57">0</text>
<text x="1842.1" y="418.2" font-family='"Liberation Serif","Times New Roman",Times,serif' font-size="57">.</text>
<text transform="translate(1856.5 418.2) scale(0.960 1.000)" font-family='"Liberation Serif","Times New Roman",Times,serif' font-size="57">3</text>
<text transform="translate(1888.7 418.2) scale(1.060 0.964) skewX(-8)" font-family='"Liberation Serif","Times New Roman",Times,serif' font-size="57" font-style="italic">ε</text>
<text transform="translate(1912.2 441.7) scale(1.034 1.000)" font-family='"Liberation Serif","Times New Roman",Times,serif' font-size="34">0</text>
<path d="M1562.4 492.7H1699.3" fill="none" stroke="#3953a4" stroke-width="5.8" stroke-linecap="round"/>
<text transform="translate(1731.8 514.5) scale(1.064 0.964) skewX(-8)" font-family='"Liberation Serif","Times New Roman",Times,serif' font-size="57" font-style="italic">ε</text>
<text transform="translate(1754.0 538.1) scale(1.086 1.000)" font-family='"Liberation Serif","Times New Roman",Times,serif' font-size="34">2</text>
<text transform="translate(1769.2 517.9) scale(1.150 1.000)" font-family='"Liberation Serif","Times New Roman",Times,serif' font-size="54">=</text>
<text transform="translate(1815.1 514.5) scale(1.014 1.000)" font-family='"Liberation Serif","Times New Roman",Times,serif' font-size="57">0</text>
<text x="1842.8" y="514.5" font-family='"Liberation Serif","Times New Roman",Times,serif' font-size="57">.</text>
<text transform="translate(1857.1 514.5) scale(0.984 1.000)" font-family='"Liberation Serif","Times New Roman",Times,serif' font-size="57">5</text>
<text transform="translate(1887.8 514.5) scale(1.060 0.964) skewX(-8)" font-family='"Liberation Serif","Times New Roman",Times,serif' font-size="57" font-style="italic">ε</text>
<text transform="translate(1910.9 538.0) scale(1.034 1.000)" font-family='"Liberation Serif","Times New Roman",Times,serif' font-size="34">0</text>
<path d="M1562.4 589.0H1699.3" fill="none" stroke="#ed1c24" stroke-width="5.8" stroke-linecap="round"/>
<text transform="translate(1731.3 610.8) scale(1.064 0.964) skewX(-8)" font-family='"Liberation Serif","Times New Roman",Times,serif' font-size="57" font-style="italic">ε</text>
<text transform="translate(1753.5 634.4) scale(1.086 1.000)" font-family='"Liberation Serif","Times New Roman",Times,serif' font-size="34">2</text>
<text transform="translate(1767.7 614.2) scale(1.150 1.000)" font-family='"Liberation Serif","Times New Roman",Times,serif' font-size="54">=</text>
<text transform="translate(1813.9 610.8) scale(1.014 1.000)" font-family='"Liberation Serif","Times New Roman",Times,serif' font-size="57">0</text>
<text x="1841.6" y="610.8" font-family='"Liberation Serif","Times New Roman",Times,serif' font-size="57">.</text>
<text transform="translate(1855.2 610.8) scale(1.030 1.000)" font-family='"Liberation Serif","Times New Roman",Times,serif' font-size="57">7</text>
<text transform="translate(1887.0 610.8) scale(1.060 0.964) skewX(-8)" font-family='"Liberation Serif","Times New Roman",Times,serif' font-size="57" font-style="italic">ε</text>
<text transform="translate(1909.7 634.3) scale(1.034 1.000)" font-family='"Liberation Serif","Times New Roman",Times,serif' font-size="34">0</text>
<path d="M1582.4 1709.9H1719.3" fill="none" stroke="#231f20" stroke-width="5.8" stroke-linecap="round"/>
<text transform="translate(1737.8 1731.7) scale(1.064 0.964) skewX(-8)" font-family='"Liberation Serif","Times New Roman",Times,serif' font-size="57" font-style="italic">ε</text>
<text transform="translate(1760.0 1755.3) scale(1.086 1.000)" font-family='"Liberation Serif","Times New Roman",Times,serif' font-size="34">2</text>
<text transform="translate(1775.6 1735.1) scale(1.150 1.000)" font-family='"Liberation Serif","Times New Roman",Times,serif' font-size="54">=</text>
<text transform="translate(1821.7 1731.7) scale(1.014 1.000)" font-family='"Liberation Serif","Times New Roman",Times,serif' font-size="57">0</text>
<path d="M1582.4 1806.1H1718.0" fill="none" stroke="#3953a4" stroke-width="5.8" stroke-linecap="round" stroke-dasharray="25.7 28.7"/>
<text transform="translate(1737.8 1828.1) scale(1.064 0.964) skewX(-8)" font-family='"Liberation Serif","Times New Roman",Times,serif' font-size="57" font-style="italic">ε</text>
<text transform="translate(1760.0 1851.7) scale(1.086 1.000)" font-family='"Liberation Serif","Times New Roman",Times,serif' font-size="34">2</text>
<text transform="translate(1775.6 1831.5) scale(1.150 1.000)" font-family='"Liberation Serif","Times New Roman",Times,serif' font-size="54">=</text>
<text transform="translate(1821.7 1828.1) scale(1.014 1.000)" font-family='"Liberation Serif","Times New Roman",Times,serif' font-size="57">0</text>
<text x="1849.9" y="1828.1" font-family='"Liberation Serif","Times New Roman",Times,serif' font-size="57">.</text>
<text transform="translate(1864.7 1828.1) scale(0.900 1.000)" font-family='"Liberation Serif","Times New Roman",Times,serif' font-size="57">1</text>
<text transform="translate(1894.0 1828.1) scale(1.060 0.964) skewX(-8)" font-family='"Liberation Serif","Times New Roman",Times,serif' font-size="57" font-style="italic">ε</text>
<text transform="translate(1916.3 1851.6) scale(1.034 1.000)" font-family='"Liberation Serif","Times New Roman",Times,serif' font-size="34">0</text>
<path d="M1582.4 1902.5H1717.0" fill="none" stroke="#231f20" stroke-width="5.8" stroke-linecap="round" stroke-dasharray="2.95 8.8"/>
<text transform="translate(1737.8 1924.2) scale(1.064 0.964) skewX(-8)" font-family='"Liberation Serif","Times New Roman",Times,serif' font-size="57" font-style="italic">ε</text>
<text transform="translate(1760.0 1947.8) scale(1.086 1.000)" font-family='"Liberation Serif","Times New Roman",Times,serif' font-size="34">2</text>
<text transform="translate(1775.6 1927.6) scale(1.150 1.000)" font-family='"Liberation Serif","Times New Roman",Times,serif' font-size="54">=</text>
<text transform="translate(1821.7 1924.2) scale(1.014 1.000)" font-family='"Liberation Serif","Times New Roman",Times,serif' font-size="57">0</text>
<text x="1854.6" y="1924.2" font-family='"Liberation Serif","Times New Roman",Times,serif' font-size="57">.</text>
<text transform="translate(1869.0 1924.2) scale(0.960 1.000)" font-family='"Liberation Serif","Times New Roman",Times,serif' font-size="57">3</text>
<text transform="translate(1901.2 1924.2) scale(1.060 0.964) skewX(-8)" font-family='"Liberation Serif","Times New Roman",Times,serif' font-size="57" font-style="italic">ε</text>
<text transform="translate(1924.7 1947.7) scale(1.034 1.000)" font-family='"Liberation Serif","Times New Roman",Times,serif' font-size="34">0</text>
<path d="M1589.2 1984.4H1725.8" fill="none" stroke="#3953a4" stroke-width="5.8" stroke-linecap="round"/>
<text transform="translate(1758.1 2005.7) scale(1.064 0.964) skewX(-8)" font-family='"Liberation Serif","Times New Roman",Times,serif' font-size="57" font-style="italic">ε</text>
<text transform="translate(1780.3 2029.3) scale(1.086 1.000)" font-family='"Liberation Serif","Times New Roman",Times,serif' font-size="34">2</text>
<text transform="translate(1795.5 2009.1) scale(1.150 1.000)" font-family='"Liberation Serif","Times New Roman",Times,serif' font-size="54">=</text>
<text transform="translate(1841.4 2005.7) scale(1.014 1.000)" font-family='"Liberation Serif","Times New Roman",Times,serif' font-size="57">0</text>
<text x="1869.1" y="2005.7" font-family='"Liberation Serif","Times New Roman",Times,serif' font-size="57">.</text>
<text transform="translate(1883.4 2005.7) scale(0.984 1.000)" font-family='"Liberation Serif","Times New Roman",Times,serif' font-size="57">5</text>
<text transform="translate(1914.1 2005.7) scale(1.060 0.964) skewX(-8)" font-family='"Liberation Serif","Times New Roman",Times,serif' font-size="57" font-style="italic">ε</text>
<text transform="translate(1937.2 2029.2) scale(1.034 1.000)" font-family='"Liberation Serif","Times New Roman",Times,serif' font-size="34">0</text>
<path d="M1589.2 2080.3H1725.8" fill="none" stroke="#ed1c24" stroke-width="5.8" stroke-linecap="round"/>
<text transform="translate(1757.3 2102.1) scale(1.064 0.964) skewX(-8)" font-family='"Liberation Serif","Times New Roman",Times,serif' font-size="57" font-style="italic">ε</text>
<text transform="translate(1779.5 2125.7) scale(1.086 1.000)" font-family='"Liberation Serif","Times New Roman",Times,serif' font-size="34">2</text>
<text transform="translate(1793.7 2105.5) scale(1.150 1.000)" font-family='"Liberation Serif","Times New Roman",Times,serif' font-size="54">=</text>
<text transform="translate(1839.9 2102.1) scale(1.014 1.000)" font-family='"Liberation Serif","Times New Roman",Times,serif' font-size="57">0</text>
<text x="1867.6" y="2102.1" font-family='"Liberation Serif","Times New Roman",Times,serif' font-size="57">.</text>
<text transform="translate(1881.2 2102.1) scale(1.030 1.000)" font-family='"Liberation Serif","Times New Roman",Times,serif' font-size="57">7</text>
<text transform="translate(1913.0 2102.1) scale(1.060 0.964) skewX(-8)" font-family='"Liberation Serif","Times New Roman",Times,serif' font-size="57" font-style="italic">ε</text>
<text transform="translate(1935.7 2125.6) scale(1.034 1.000)" font-family='"Liberation Serif","Times New Roman",Times,serif' font-size="34">0</text>
<path d="M1295 2215L1238 2293.8" fill="none" stroke="#231f20" stroke-width="1.8"/>
<path d="M1223 2314.5L1233.6 2285.1L1247.6 2295.3Z" fill="#231f20"/>
<defs><clipPath id="k1"><path d="M-9.28 -46.40H37.12V-4.27H15.86V2.32H11.58V-4.27H-9.28Z"/></clipPath><clipPath id="k2"><path d="M-8.40 -42.00H33.60V-3.86H14.36V2.10H10.48V-3.86H-8.40Z"/></clipPath></defs>
</svg>
</body>
</html>
